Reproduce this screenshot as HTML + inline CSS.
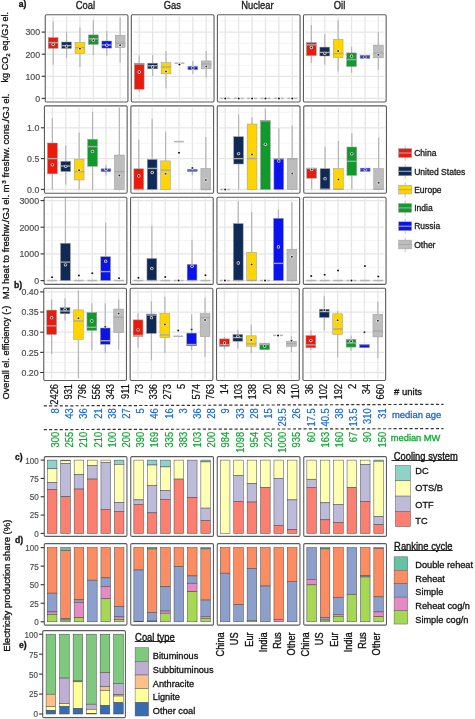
<!DOCTYPE html><html><head><meta charset="utf-8"><style>html,body{margin:0;padding:0;background:#fff;width:475px;height:719px;overflow:hidden}svg{display:block;will-change:transform}text{font-family:"Liberation Sans", sans-serif}</style></head><body>
<svg width="475" height="719" viewBox="0 0 475 719">
<rect width="475" height="719" fill="#fff"/>
<text transform="translate(85.4,8.75) scale(1,1.13)" font-size="9.4" text-anchor="middle" fill="#1a1a1a" stroke="#1a1a1a" stroke-width="0.3">Coal</text>
<text transform="translate(172.3,8.75) scale(1,1.13)" font-size="9.4" text-anchor="middle" fill="#1a1a1a" stroke="#1a1a1a" stroke-width="0.3">Gas</text>
<text transform="translate(257.4,8.75) scale(1,1.13)" font-size="9.4" text-anchor="middle" fill="#1a1a1a" stroke="#1a1a1a" stroke-width="0.3">Nuclear</text>
<text transform="translate(339.5,8.75) scale(1,1.13)" font-size="9.4" text-anchor="middle" fill="#1a1a1a" stroke="#1a1a1a" stroke-width="0.3">Oil</text>
<text x="18.7" y="7.4" font-size="8.6" font-weight="bold" fill="#111" stroke="#111" stroke-width="0.3">a)</text>
<g>
<line x1="46.85" x2="126.35" y1="87.35" y2="87.35" stroke="#F3F3F3" stroke-width="0.9"/>
<line x1="46.85" x2="126.35" y1="65.25" y2="65.25" stroke="#F3F3F3" stroke-width="0.9"/>
<line x1="46.85" x2="126.35" y1="43.15" y2="43.15" stroke="#F3F3F3" stroke-width="0.9"/>
<line x1="46.85" x2="126.35" y1="21.05" y2="21.05" stroke="#F3F3F3" stroke-width="0.9"/>
<line x1="46.85" x2="126.35" y1="98.4" y2="98.4" stroke="#E6E6E6" stroke-width="1.3"/>
<line x1="46.85" x2="126.35" y1="76.3" y2="76.3" stroke="#E6E6E6" stroke-width="1.3"/>
<line x1="46.85" x2="126.35" y1="54.2" y2="54.2" stroke="#E6E6E6" stroke-width="1.3"/>
<line x1="46.85" x2="126.35" y1="32.1" y2="32.1" stroke="#E6E6E6" stroke-width="1.3"/>
<line x1="53.15" x2="53.15" y1="16.40" y2="100.40" stroke="#E6E6E6" stroke-width="1.3"/>
<line x1="66.55" x2="66.55" y1="16.40" y2="100.40" stroke="#E6E6E6" stroke-width="1.3"/>
<line x1="79.95" x2="79.95" y1="16.40" y2="100.40" stroke="#E6E6E6" stroke-width="1.3"/>
<line x1="93.35" x2="93.35" y1="16.40" y2="100.40" stroke="#E6E6E6" stroke-width="1.3"/>
<line x1="106.75" x2="106.75" y1="16.40" y2="100.40" stroke="#E6E6E6" stroke-width="1.3"/>
<line x1="120.15" x2="120.15" y1="16.40" y2="100.40" stroke="#E6E6E6" stroke-width="1.3"/>
<line x1="53.15" x2="53.15" y1="21.5" y2="37.6" stroke="#B6B6B6" stroke-width="1.2"/>
<line x1="53.15" x2="53.15" y1="48.3" y2="64.4" stroke="#B6B6B6" stroke-width="1.2"/>
<rect x="48.25" y="37.6" width="9.8" height="10.70" fill="#EA1A0C" stroke="#9a9a9a" stroke-width="0.5"/>
<line x1="48.25" x2="58.05" y1="42.6" y2="42.6" stroke="#A8A8A8" stroke-width="1.35"/>
<circle cx="53.15" cy="44.3" r="1.65" fill="#f6f6f6"/><circle cx="53.15" cy="44.3" r="1.0" fill="#2a2a2a"/>
<line x1="66.55" x2="66.55" y1="31.7" y2="42.0" stroke="#B6B6B6" stroke-width="1.2"/>
<line x1="66.55" x2="66.55" y1="48.4" y2="58.2" stroke="#B6B6B6" stroke-width="1.2"/>
<rect x="61.65" y="42.0" width="9.8" height="6.40" fill="#0F2A56" stroke="#9a9a9a" stroke-width="0.5"/>
<line x1="61.65" x2="71.45" y1="45.6" y2="45.6" stroke="#A8A8A8" stroke-width="1.35"/>
<circle cx="66.55" cy="46.2" r="1.65" fill="#f6f6f6"/><circle cx="66.55" cy="46.2" r="1.0" fill="#2a2a2a"/>
<line x1="79.95" x2="79.95" y1="27.3" y2="42.4" stroke="#B6B6B6" stroke-width="1.2"/>
<line x1="79.95" x2="79.95" y1="53.3" y2="67.0" stroke="#B6B6B6" stroke-width="1.2"/>
<rect x="75.05" y="42.4" width="9.8" height="10.90" fill="#FFD500" stroke="#9a9a9a" stroke-width="0.5"/>
<line x1="75.05" x2="84.85" y1="47.6" y2="47.6" stroke="#A8A8A8" stroke-width="1.35"/>
<circle cx="79.95" cy="48.8" r="1.65" fill="#f6f6f6"/><circle cx="79.95" cy="48.8" r="1.0" fill="#2a2a2a"/>
<line x1="93.35" x2="93.35" y1="20.2" y2="34.9" stroke="#B6B6B6" stroke-width="1.2"/>
<line x1="93.35" x2="93.35" y1="44.4" y2="55.0" stroke="#B6B6B6" stroke-width="1.2"/>
<rect x="88.45" y="34.9" width="9.8" height="9.50" fill="#119A2C" stroke="#9a9a9a" stroke-width="0.5"/>
<line x1="88.45" x2="98.25" y1="38.8" y2="38.8" stroke="#A8A8A8" stroke-width="1.35"/>
<circle cx="93.35" cy="40.2" r="1.65" fill="#f6f6f6"/><circle cx="93.35" cy="40.2" r="1.0" fill="#2a2a2a"/>
<line x1="106.75" x2="106.75" y1="30.8" y2="41.0" stroke="#B6B6B6" stroke-width="1.2"/>
<line x1="106.75" x2="106.75" y1="48.1" y2="55.6" stroke="#B6B6B6" stroke-width="1.2"/>
<rect x="101.85" y="41.0" width="9.8" height="7.10" fill="#0A12EE" stroke="#9a9a9a" stroke-width="0.5"/>
<line x1="101.85" x2="111.65" y1="45.0" y2="45.0" stroke="#A8A8A8" stroke-width="1.35"/>
<circle cx="106.75" cy="45.2" r="1.65" fill="#f6f6f6"/><circle cx="106.75" cy="45.2" r="1.0" fill="#2a2a2a"/>
<line x1="120.15" x2="120.15" y1="17.5" y2="35.2" stroke="#B6B6B6" stroke-width="1.2"/>
<line x1="120.15" x2="120.15" y1="47.6" y2="62.6" stroke="#B6B6B6" stroke-width="1.2"/>
<rect x="115.25" y="35.2" width="9.8" height="12.40" fill="#BDBDBD" stroke="#9a9a9a" stroke-width="0.5"/>
<line x1="115.25" x2="125.05" y1="43.2" y2="43.2" stroke="#A8A8A8" stroke-width="1.35"/>
<circle cx="120.15" cy="45.3" r="1.65" fill="#f6f6f6"/><circle cx="120.15" cy="45.3" r="1.0" fill="#2a2a2a"/>
<rect x="45.25" y="14.8" width="82.7" height="87.20" fill="none" stroke="#5c5c5c" stroke-width="1.1" rx="1.2"/>
</g>
<g>
<line x1="132.92" x2="212.42" y1="87.35" y2="87.35" stroke="#F3F3F3" stroke-width="0.9"/>
<line x1="132.92" x2="212.42" y1="65.25" y2="65.25" stroke="#F3F3F3" stroke-width="0.9"/>
<line x1="132.92" x2="212.42" y1="43.15" y2="43.15" stroke="#F3F3F3" stroke-width="0.9"/>
<line x1="132.92" x2="212.42" y1="21.05" y2="21.05" stroke="#F3F3F3" stroke-width="0.9"/>
<line x1="132.92" x2="212.42" y1="98.4" y2="98.4" stroke="#E6E6E6" stroke-width="1.3"/>
<line x1="132.92" x2="212.42" y1="76.3" y2="76.3" stroke="#E6E6E6" stroke-width="1.3"/>
<line x1="132.92" x2="212.42" y1="54.2" y2="54.2" stroke="#E6E6E6" stroke-width="1.3"/>
<line x1="132.92" x2="212.42" y1="32.1" y2="32.1" stroke="#E6E6E6" stroke-width="1.3"/>
<line x1="139.22" x2="139.22" y1="16.40" y2="100.40" stroke="#E6E6E6" stroke-width="1.3"/>
<line x1="152.62" x2="152.62" y1="16.40" y2="100.40" stroke="#E6E6E6" stroke-width="1.3"/>
<line x1="166.02" x2="166.02" y1="16.40" y2="100.40" stroke="#E6E6E6" stroke-width="1.3"/>
<line x1="179.42" x2="179.42" y1="16.40" y2="100.40" stroke="#E6E6E6" stroke-width="1.3"/>
<line x1="192.82" x2="192.82" y1="16.40" y2="100.40" stroke="#E6E6E6" stroke-width="1.3"/>
<line x1="206.22" x2="206.22" y1="16.40" y2="100.40" stroke="#E6E6E6" stroke-width="1.3"/>
<line x1="139.22" x2="139.22" y1="55.6" y2="63.2" stroke="#B6B6B6" stroke-width="1.2"/>
<line x1="139.22" x2="139.22" y1="89.2" y2="91.8" stroke="#B6B6B6" stroke-width="1.2"/>
<rect x="134.32" y="63.2" width="9.8" height="26.00" fill="#EA1A0C" stroke="#9a9a9a" stroke-width="0.5"/>
<line x1="134.32" x2="144.12" y1="64.0" y2="64.0" stroke="#A8A8A8" stroke-width="1.35"/>
<circle cx="139.22" cy="72.0" r="1.65" fill="#f6f6f6"/><circle cx="139.22" cy="72.0" r="1.0" fill="#2a2a2a"/>
<line x1="152.62" x2="152.62" y1="55.0" y2="63.2" stroke="#B6B6B6" stroke-width="1.2"/>
<line x1="152.62" x2="152.62" y1="68.8" y2="75.9" stroke="#B6B6B6" stroke-width="1.2"/>
<rect x="147.72" y="63.2" width="9.8" height="5.60" fill="#0F2A56" stroke="#9a9a9a" stroke-width="0.5"/>
<line x1="147.72" x2="157.52" y1="65.8" y2="65.8" stroke="#A8A8A8" stroke-width="1.35"/>
<circle cx="152.62" cy="67.0" r="1.65" fill="#f6f6f6"/><circle cx="152.62" cy="67.0" r="1.0" fill="#2a2a2a"/>
<line x1="166.02" x2="166.02" y1="51.1" y2="62.6" stroke="#B6B6B6" stroke-width="1.2"/>
<line x1="166.02" x2="166.02" y1="73.8" y2="88.3" stroke="#B6B6B6" stroke-width="1.2"/>
<rect x="161.12" y="62.6" width="9.8" height="11.20" fill="#FFD500" stroke="#9a9a9a" stroke-width="0.5"/>
<line x1="161.12" x2="170.92" y1="67.0" y2="67.0" stroke="#A8A8A8" stroke-width="1.35"/>
<circle cx="166.02" cy="71.5" r="1.65" fill="#f6f6f6"/><circle cx="166.02" cy="71.5" r="1.0" fill="#2a2a2a"/>
<line x1="174.52" x2="184.32" y1="63.2" y2="63.2" stroke="#B4B4B4" stroke-width="1.5"/>
<circle cx="179.42" cy="64.4" r="1.9" fill="#fff"/><circle cx="179.42" cy="64.4" r="1.0" fill="#111"/>
<line x1="192.82" x2="192.82" y1="60.9" y2="66.2" stroke="#B6B6B6" stroke-width="1.2"/>
<line x1="192.82" x2="192.82" y1="69.7" y2="74.1" stroke="#B6B6B6" stroke-width="1.2"/>
<rect x="187.92" y="66.2" width="9.8" height="3.50" fill="#0A12EE" stroke="#9a9a9a" stroke-width="0.5"/>
<line x1="187.92" x2="197.72" y1="67.0" y2="67.0" stroke="#A8A8A8" stroke-width="0.6"/>
<circle cx="192.82" cy="68.0" r="1.65" fill="#f6f6f6"/><circle cx="192.82" cy="68.0" r="1.0" fill="#2a2a2a"/>
<line x1="206.22" x2="206.22" y1="50.8" y2="60.9" stroke="#B6B6B6" stroke-width="1.2"/>
<line x1="206.22" x2="206.22" y1="68.8" y2="77.7" stroke="#B6B6B6" stroke-width="1.2"/>
<rect x="201.32" y="60.9" width="9.8" height="7.90" fill="#BDBDBD" stroke="#9a9a9a" stroke-width="0.5"/>
<line x1="201.32" x2="211.12" y1="64.0" y2="64.0" stroke="#A8A8A8" stroke-width="1.35"/>
<circle cx="206.22" cy="66.5" r="1.65" fill="#f6f6f6"/><circle cx="206.22" cy="66.5" r="1.0" fill="#2a2a2a"/>
<rect x="131.32" y="14.8" width="82.7" height="87.20" fill="none" stroke="#5c5c5c" stroke-width="1.1" rx="1.2"/>
</g>
<g>
<line x1="218.99" x2="298.49" y1="87.35" y2="87.35" stroke="#F3F3F3" stroke-width="0.9"/>
<line x1="218.99" x2="298.49" y1="65.25" y2="65.25" stroke="#F3F3F3" stroke-width="0.9"/>
<line x1="218.99" x2="298.49" y1="43.15" y2="43.15" stroke="#F3F3F3" stroke-width="0.9"/>
<line x1="218.99" x2="298.49" y1="21.05" y2="21.05" stroke="#F3F3F3" stroke-width="0.9"/>
<line x1="218.99" x2="298.49" y1="98.4" y2="98.4" stroke="#E6E6E6" stroke-width="1.3"/>
<line x1="218.99" x2="298.49" y1="76.3" y2="76.3" stroke="#E6E6E6" stroke-width="1.3"/>
<line x1="218.99" x2="298.49" y1="54.2" y2="54.2" stroke="#E6E6E6" stroke-width="1.3"/>
<line x1="218.99" x2="298.49" y1="32.1" y2="32.1" stroke="#E6E6E6" stroke-width="1.3"/>
<line x1="225.29" x2="225.29" y1="16.40" y2="100.40" stroke="#E6E6E6" stroke-width="1.3"/>
<line x1="238.69" x2="238.69" y1="16.40" y2="100.40" stroke="#E6E6E6" stroke-width="1.3"/>
<line x1="252.09" x2="252.09" y1="16.40" y2="100.40" stroke="#E6E6E6" stroke-width="1.3"/>
<line x1="265.49" x2="265.49" y1="16.40" y2="100.40" stroke="#E6E6E6" stroke-width="1.3"/>
<line x1="278.89" x2="278.89" y1="16.40" y2="100.40" stroke="#E6E6E6" stroke-width="1.3"/>
<line x1="292.29" x2="292.29" y1="16.40" y2="100.40" stroke="#E6E6E6" stroke-width="1.3"/>
<line x1="220.39" x2="230.19" y1="98.4" y2="98.4" stroke="#B4B4B4" stroke-width="1.5"/>
<circle cx="225.29" cy="98.4" r="1.9" fill="#fff"/><circle cx="225.29" cy="98.4" r="1.0" fill="#111"/>
<line x1="233.79" x2="243.59" y1="98.4" y2="98.4" stroke="#B4B4B4" stroke-width="1.5"/>
<circle cx="238.69" cy="98.4" r="1.9" fill="#fff"/><circle cx="238.69" cy="98.4" r="1.0" fill="#111"/>
<line x1="247.19" x2="256.99" y1="98.4" y2="98.4" stroke="#B4B4B4" stroke-width="1.5"/>
<circle cx="252.09" cy="98.4" r="1.9" fill="#fff"/><circle cx="252.09" cy="98.4" r="1.0" fill="#111"/>
<line x1="260.59" x2="270.39" y1="98.4" y2="98.4" stroke="#B4B4B4" stroke-width="1.5"/>
<circle cx="265.49" cy="98.4" r="1.9" fill="#fff"/><circle cx="265.49" cy="98.4" r="1.0" fill="#111"/>
<line x1="273.99" x2="283.79" y1="98.4" y2="98.4" stroke="#B4B4B4" stroke-width="1.5"/>
<circle cx="278.89" cy="98.4" r="1.9" fill="#fff"/><circle cx="278.89" cy="98.4" r="1.0" fill="#111"/>
<line x1="287.39" x2="297.19" y1="98.4" y2="98.4" stroke="#B4B4B4" stroke-width="1.5"/>
<circle cx="292.29" cy="98.4" r="1.9" fill="#fff"/><circle cx="292.29" cy="98.4" r="1.0" fill="#111"/>
<rect x="217.39" y="14.8" width="82.7" height="87.20" fill="none" stroke="#5c5c5c" stroke-width="1.1" rx="1.2"/>
</g>
<g>
<line x1="305.06" x2="384.56" y1="87.35" y2="87.35" stroke="#F3F3F3" stroke-width="0.9"/>
<line x1="305.06" x2="384.56" y1="65.25" y2="65.25" stroke="#F3F3F3" stroke-width="0.9"/>
<line x1="305.06" x2="384.56" y1="43.15" y2="43.15" stroke="#F3F3F3" stroke-width="0.9"/>
<line x1="305.06" x2="384.56" y1="21.05" y2="21.05" stroke="#F3F3F3" stroke-width="0.9"/>
<line x1="305.06" x2="384.56" y1="98.4" y2="98.4" stroke="#E6E6E6" stroke-width="1.3"/>
<line x1="305.06" x2="384.56" y1="76.3" y2="76.3" stroke="#E6E6E6" stroke-width="1.3"/>
<line x1="305.06" x2="384.56" y1="54.2" y2="54.2" stroke="#E6E6E6" stroke-width="1.3"/>
<line x1="305.06" x2="384.56" y1="32.1" y2="32.1" stroke="#E6E6E6" stroke-width="1.3"/>
<line x1="311.36" x2="311.36" y1="16.40" y2="100.40" stroke="#E6E6E6" stroke-width="1.3"/>
<line x1="324.76" x2="324.76" y1="16.40" y2="100.40" stroke="#E6E6E6" stroke-width="1.3"/>
<line x1="338.16" x2="338.16" y1="16.40" y2="100.40" stroke="#E6E6E6" stroke-width="1.3"/>
<line x1="351.56" x2="351.56" y1="16.40" y2="100.40" stroke="#E6E6E6" stroke-width="1.3"/>
<line x1="364.96" x2="364.96" y1="16.40" y2="100.40" stroke="#E6E6E6" stroke-width="1.3"/>
<line x1="378.36" x2="378.36" y1="16.40" y2="100.40" stroke="#E6E6E6" stroke-width="1.3"/>
<line x1="311.36" x2="311.36" y1="24.9" y2="42.6" stroke="#B6B6B6" stroke-width="1.2"/>
<line x1="311.36" x2="311.36" y1="55.6" y2="62.9" stroke="#B6B6B6" stroke-width="1.2"/>
<rect x="306.46" y="42.6" width="9.8" height="13.00" fill="#EA1A0C" stroke="#9a9a9a" stroke-width="0.5"/>
<line x1="306.46" x2="316.26" y1="44.8" y2="44.8" stroke="#A8A8A8" stroke-width="1.35"/>
<circle cx="311.36" cy="47.5" r="1.65" fill="#f6f6f6"/><circle cx="311.36" cy="47.5" r="1.0" fill="#2a2a2a"/>
<line x1="324.76" x2="324.76" y1="33.9" y2="47.1" stroke="#B6B6B6" stroke-width="1.2"/>
<line x1="324.76" x2="324.76" y1="56.0" y2="64.7" stroke="#B6B6B6" stroke-width="1.2"/>
<rect x="319.86" y="47.1" width="9.8" height="8.90" fill="#0F2A56" stroke="#9a9a9a" stroke-width="0.5"/>
<line x1="319.86" x2="329.66" y1="52.4" y2="52.4" stroke="#A8A8A8" stroke-width="1.35"/>
<circle cx="324.76" cy="53.3" r="1.65" fill="#f6f6f6"/><circle cx="324.76" cy="53.3" r="1.0" fill="#2a2a2a"/>
<line x1="338.16" x2="338.16" y1="20.3" y2="39.3" stroke="#B6B6B6" stroke-width="1.2"/>
<line x1="338.16" x2="338.16" y1="57.5" y2="71.6" stroke="#B6B6B6" stroke-width="1.2"/>
<rect x="333.26" y="39.3" width="9.8" height="18.20" fill="#FFD500" stroke="#9a9a9a" stroke-width="0.5"/>
<line x1="333.26" x2="343.06" y1="53.5" y2="53.5" stroke="#A8A8A8" stroke-width="1.35"/>
<circle cx="338.16" cy="51.1" r="1.65" fill="#f6f6f6"/><circle cx="338.16" cy="51.1" r="1.0" fill="#2a2a2a"/>
<line x1="351.56" x2="351.56" y1="46.6" y2="52.9" stroke="#B6B6B6" stroke-width="1.2"/>
<line x1="351.56" x2="351.56" y1="66.5" y2="72.8" stroke="#B6B6B6" stroke-width="1.2"/>
<rect x="346.66" y="52.9" width="9.8" height="13.60" fill="#119A2C" stroke="#9a9a9a" stroke-width="0.5"/>
<line x1="346.66" x2="356.46" y1="59.6" y2="59.6" stroke="#A8A8A8" stroke-width="1.35"/>
<circle cx="351.56" cy="56.2" r="1.65" fill="#f6f6f6"/><circle cx="351.56" cy="56.2" r="1.0" fill="#2a2a2a"/>
<rect x="360.06" y="55.3" width="9.8" height="3.10" fill="#0A12EE" stroke="#9a9a9a" stroke-width="0.5"/>
<line x1="360.06" x2="369.86" y1="57.0" y2="57.0" stroke="#A8A8A8" stroke-width="0.6"/>
<circle cx="364.96" cy="57.1" r="1.65" fill="#f6f6f6"/><circle cx="364.96" cy="57.1" r="1.0" fill="#2a2a2a"/>
<line x1="378.36" x2="378.36" y1="32.1" y2="45.1" stroke="#B6B6B6" stroke-width="1.2"/>
<line x1="378.36" x2="378.36" y1="57.8" y2="70.1" stroke="#B6B6B6" stroke-width="1.2"/>
<rect x="373.46" y="45.1" width="9.8" height="12.70" fill="#BDBDBD" stroke="#9a9a9a" stroke-width="0.5"/>
<line x1="373.46" x2="383.26" y1="52.9" y2="52.9" stroke="#A8A8A8" stroke-width="1.35"/>
<circle cx="378.36" cy="54.7" r="1.65" fill="#f6f6f6"/><circle cx="378.36" cy="54.7" r="1.0" fill="#2a2a2a"/>
<rect x="303.46" y="14.8" width="82.7" height="87.20" fill="none" stroke="#5c5c5c" stroke-width="1.1" rx="1.2"/>
</g>
<line x1="41.65" x2="45.25" y1="98.4" y2="98.4" stroke="#333" stroke-width="1.1"/>
<text x="40.15" y="101.70" font-size="8.8" text-anchor="end" fill="#4d4d4d" stroke="#4d4d4d" stroke-width="0.18">0</text>
<line x1="41.65" x2="45.25" y1="76.3" y2="76.3" stroke="#333" stroke-width="1.1"/>
<text x="40.15" y="79.60" font-size="8.8" text-anchor="end" fill="#4d4d4d" stroke="#4d4d4d" stroke-width="0.18">100</text>
<line x1="41.65" x2="45.25" y1="54.2" y2="54.2" stroke="#333" stroke-width="1.1"/>
<text x="40.15" y="57.50" font-size="8.8" text-anchor="end" fill="#4d4d4d" stroke="#4d4d4d" stroke-width="0.18">200</text>
<line x1="41.65" x2="45.25" y1="32.1" y2="32.1" stroke="#333" stroke-width="1.1"/>
<text x="40.15" y="35.40" font-size="8.8" text-anchor="end" fill="#4d4d4d" stroke="#4d4d4d" stroke-width="0.18">300</text>
<g>
<line x1="46.05" x2="125.55" y1="174.0" y2="174.0" stroke="#F3F3F3" stroke-width="0.9"/>
<line x1="46.05" x2="125.55" y1="143.2" y2="143.2" stroke="#F3F3F3" stroke-width="0.9"/>
<line x1="46.05" x2="125.55" y1="112.4" y2="112.4" stroke="#F3F3F3" stroke-width="0.9"/>
<line x1="46.05" x2="125.55" y1="189.4" y2="189.4" stroke="#E6E6E6" stroke-width="1.3"/>
<line x1="46.05" x2="125.55" y1="158.6" y2="158.6" stroke="#E6E6E6" stroke-width="1.3"/>
<line x1="46.05" x2="125.55" y1="127.8" y2="127.8" stroke="#E6E6E6" stroke-width="1.3"/>
<line x1="52.35" x2="52.35" y1="107.50" y2="191.70" stroke="#E6E6E6" stroke-width="1.3"/>
<line x1="65.75" x2="65.75" y1="107.50" y2="191.70" stroke="#E6E6E6" stroke-width="1.3"/>
<line x1="79.15" x2="79.15" y1="107.50" y2="191.70" stroke="#E6E6E6" stroke-width="1.3"/>
<line x1="92.55" x2="92.55" y1="107.50" y2="191.70" stroke="#E6E6E6" stroke-width="1.3"/>
<line x1="105.95" x2="105.95" y1="107.50" y2="191.70" stroke="#E6E6E6" stroke-width="1.3"/>
<line x1="119.35" x2="119.35" y1="107.50" y2="191.70" stroke="#E6E6E6" stroke-width="1.3"/>
<line x1="52.35" x2="52.35" y1="118.3" y2="143.0" stroke="#B6B6B6" stroke-width="1.2"/>
<line x1="52.35" x2="52.35" y1="173.8" y2="189.5" stroke="#B6B6B6" stroke-width="1.2"/>
<rect x="47.45" y="143.0" width="9.8" height="30.80" fill="#EA1A0C" stroke="#9a9a9a" stroke-width="0.5"/>
<line x1="47.45" x2="57.25" y1="158.6" y2="158.6" stroke="#A8A8A8" stroke-width="1.35"/>
<circle cx="52.35" cy="164.8" r="1.65" fill="#f6f6f6"/><circle cx="52.35" cy="164.8" r="1.0" fill="#2a2a2a"/>
<line x1="65.75" x2="65.75" y1="145.2" y2="161.3" stroke="#B6B6B6" stroke-width="1.2"/>
<line x1="65.75" x2="65.75" y1="171.5" y2="184.5" stroke="#B6B6B6" stroke-width="1.2"/>
<rect x="60.85" y="161.3" width="9.8" height="10.20" fill="#0F2A56" stroke="#9a9a9a" stroke-width="0.5"/>
<line x1="60.85" x2="70.65" y1="166.0" y2="166.0" stroke="#A8A8A8" stroke-width="1.35"/>
<circle cx="65.75" cy="166.3" r="1.65" fill="#f6f6f6"/><circle cx="65.75" cy="166.3" r="1.0" fill="#2a2a2a"/>
<line x1="79.15" x2="79.15" y1="132.6" y2="159.1" stroke="#B6B6B6" stroke-width="1.2"/>
<line x1="79.15" x2="79.15" y1="180.0" y2="189.5" stroke="#B6B6B6" stroke-width="1.2"/>
<rect x="74.25" y="159.1" width="9.8" height="20.90" fill="#FFD500" stroke="#9a9a9a" stroke-width="0.5"/>
<line x1="74.25" x2="84.05" y1="171.6" y2="171.6" stroke="#A8A8A8" stroke-width="1.35"/>
<circle cx="79.15" cy="170.2" r="1.65" fill="#f6f6f6"/><circle cx="79.15" cy="170.2" r="1.0" fill="#2a2a2a"/>
<line x1="92.55" x2="92.55" y1="112.0" y2="139.3" stroke="#B6B6B6" stroke-width="1.2"/>
<line x1="92.55" x2="92.55" y1="166.3" y2="189.5" stroke="#B6B6B6" stroke-width="1.2"/>
<rect x="87.65" y="139.3" width="9.8" height="27.00" fill="#119A2C" stroke="#9a9a9a" stroke-width="0.5"/>
<line x1="87.65" x2="97.45" y1="146.6" y2="146.6" stroke="#A8A8A8" stroke-width="1.35"/>
<circle cx="92.55" cy="151.4" r="1.65" fill="#f6f6f6"/><circle cx="92.55" cy="151.4" r="1.0" fill="#2a2a2a"/>
<line x1="105.95" x2="105.95" y1="164.8" y2="168.8" stroke="#B6B6B6" stroke-width="1.2"/>
<line x1="105.95" x2="105.95" y1="171.6" y2="175.6" stroke="#B6B6B6" stroke-width="1.2"/>
<rect x="101.05" y="168.8" width="9.8" height="2.80" fill="#0A12EE" stroke="#9a9a9a" stroke-width="0.5"/>
<line x1="101.05" x2="110.85" y1="170.0" y2="170.0" stroke="#A8A8A8" stroke-width="0.6"/>
<circle cx="105.95" cy="169.3" r="1.65" fill="#f6f6f6"/><circle cx="105.95" cy="169.3" r="1.0" fill="#2a2a2a"/>
<line x1="119.35" x2="119.35" y1="107.6" y2="155.0" stroke="#B6B6B6" stroke-width="1.2"/>
<rect x="114.45" y="155.0" width="9.8" height="34.50" fill="#BDBDBD" stroke="#9a9a9a" stroke-width="0.5"/>
<line x1="114.45" x2="124.25" y1="171.5" y2="171.5" stroke="#A8A8A8" stroke-width="1.35"/>
<circle cx="119.35" cy="175.6" r="1.65" fill="#f6f6f6"/><circle cx="119.35" cy="175.6" r="1.0" fill="#2a2a2a"/>
<rect x="44.45" y="105.9" width="82.7" height="87.40" fill="none" stroke="#5c5c5c" stroke-width="1.1" rx="1.2"/>
</g>
<g>
<line x1="132.48" x2="211.98" y1="174.0" y2="174.0" stroke="#F3F3F3" stroke-width="0.9"/>
<line x1="132.48" x2="211.98" y1="143.2" y2="143.2" stroke="#F3F3F3" stroke-width="0.9"/>
<line x1="132.48" x2="211.98" y1="112.4" y2="112.4" stroke="#F3F3F3" stroke-width="0.9"/>
<line x1="132.48" x2="211.98" y1="189.4" y2="189.4" stroke="#E6E6E6" stroke-width="1.3"/>
<line x1="132.48" x2="211.98" y1="158.6" y2="158.6" stroke="#E6E6E6" stroke-width="1.3"/>
<line x1="132.48" x2="211.98" y1="127.8" y2="127.8" stroke="#E6E6E6" stroke-width="1.3"/>
<line x1="138.78" x2="138.78" y1="107.50" y2="191.70" stroke="#E6E6E6" stroke-width="1.3"/>
<line x1="152.18" x2="152.18" y1="107.50" y2="191.70" stroke="#E6E6E6" stroke-width="1.3"/>
<line x1="165.58" x2="165.58" y1="107.50" y2="191.70" stroke="#E6E6E6" stroke-width="1.3"/>
<line x1="178.98" x2="178.98" y1="107.50" y2="191.70" stroke="#E6E6E6" stroke-width="1.3"/>
<line x1="192.38" x2="192.38" y1="107.50" y2="191.70" stroke="#E6E6E6" stroke-width="1.3"/>
<line x1="205.78" x2="205.78" y1="107.50" y2="191.70" stroke="#E6E6E6" stroke-width="1.3"/>
<line x1="138.78" x2="138.78" y1="139.8" y2="168.8" stroke="#B6B6B6" stroke-width="1.2"/>
<rect x="133.88" y="168.8" width="9.8" height="20.70" fill="#EA1A0C" stroke="#9a9a9a" stroke-width="0.5"/>
<line x1="133.88" x2="143.68" y1="189.5" y2="189.5" stroke="#A8A8A8" stroke-width="1.35"/>
<circle cx="138.78" cy="175.9" r="1.65" fill="#f6f6f6"/><circle cx="138.78" cy="175.9" r="1.0" fill="#2a2a2a"/>
<line x1="152.18" x2="152.18" y1="118.7" y2="159.5" stroke="#B6B6B6" stroke-width="1.2"/>
<rect x="147.28" y="159.5" width="9.8" height="30.00" fill="#0F2A56" stroke="#9a9a9a" stroke-width="0.5"/>
<line x1="147.28" x2="157.08" y1="168.4" y2="168.4" stroke="#A8A8A8" stroke-width="1.35"/>
<circle cx="152.18" cy="172.5" r="1.65" fill="#f6f6f6"/><circle cx="152.18" cy="172.5" r="1.0" fill="#2a2a2a"/>
<line x1="165.58" x2="165.58" y1="131.7" y2="160.9" stroke="#B6B6B6" stroke-width="1.2"/>
<rect x="160.68" y="160.9" width="9.8" height="28.60" fill="#FFD500" stroke="#9a9a9a" stroke-width="0.5"/>
<line x1="160.68" x2="170.48" y1="170.2" y2="170.2" stroke="#A8A8A8" stroke-width="1.35"/>
<circle cx="165.58" cy="173.8" r="1.65" fill="#f6f6f6"/><circle cx="165.58" cy="173.8" r="1.0" fill="#2a2a2a"/>
<line x1="174.08" x2="183.88" y1="141.6" y2="141.6" stroke="#B4B4B4" stroke-width="1.5"/>
<circle cx="178.98" cy="152.7" r="1.9" fill="#fff"/><circle cx="178.98" cy="152.7" r="1.0" fill="#111"/>
<line x1="192.38" x2="192.38" y1="166.6" y2="169.3" stroke="#B6B6B6" stroke-width="1.2"/>
<line x1="192.38" x2="192.38" y1="171.5" y2="175.2" stroke="#B6B6B6" stroke-width="1.2"/>
<rect x="187.48" y="169.3" width="9.8" height="2.20" fill="#0A12EE" stroke="#9a9a9a" stroke-width="0.5"/>
<line x1="187.48" x2="197.28" y1="170.4" y2="170.4" stroke="#A8A8A8" stroke-width="0.6"/>
<circle cx="192.38" cy="168.0" r="1.65" fill="#f6f6f6"/><circle cx="192.38" cy="168.0" r="1.0" fill="#2a2a2a"/>
<line x1="205.78" x2="205.78" y1="137.1" y2="168.4" stroke="#B6B6B6" stroke-width="1.2"/>
<rect x="200.88" y="168.4" width="9.8" height="21.10" fill="#BDBDBD" stroke="#9a9a9a" stroke-width="0.5"/>
<line x1="200.88" x2="210.68" y1="189.5" y2="189.5" stroke="#A8A8A8" stroke-width="1.35"/>
<circle cx="205.78" cy="180.0" r="1.65" fill="#f6f6f6"/><circle cx="205.78" cy="180.0" r="1.0" fill="#2a2a2a"/>
<rect x="130.88" y="105.9" width="82.7" height="87.40" fill="none" stroke="#5c5c5c" stroke-width="1.1" rx="1.2"/>
</g>
<g>
<line x1="218.91" x2="298.41" y1="174.0" y2="174.0" stroke="#F3F3F3" stroke-width="0.9"/>
<line x1="218.91" x2="298.41" y1="143.2" y2="143.2" stroke="#F3F3F3" stroke-width="0.9"/>
<line x1="218.91" x2="298.41" y1="112.4" y2="112.4" stroke="#F3F3F3" stroke-width="0.9"/>
<line x1="218.91" x2="298.41" y1="189.4" y2="189.4" stroke="#E6E6E6" stroke-width="1.3"/>
<line x1="218.91" x2="298.41" y1="158.6" y2="158.6" stroke="#E6E6E6" stroke-width="1.3"/>
<line x1="218.91" x2="298.41" y1="127.8" y2="127.8" stroke="#E6E6E6" stroke-width="1.3"/>
<line x1="225.21" x2="225.21" y1="107.50" y2="191.70" stroke="#E6E6E6" stroke-width="1.3"/>
<line x1="238.61" x2="238.61" y1="107.50" y2="191.70" stroke="#E6E6E6" stroke-width="1.3"/>
<line x1="252.01" x2="252.01" y1="107.50" y2="191.70" stroke="#E6E6E6" stroke-width="1.3"/>
<line x1="265.41" x2="265.41" y1="107.50" y2="191.70" stroke="#E6E6E6" stroke-width="1.3"/>
<line x1="278.81" x2="278.81" y1="107.50" y2="191.70" stroke="#E6E6E6" stroke-width="1.3"/>
<line x1="292.21" x2="292.21" y1="107.50" y2="191.70" stroke="#E6E6E6" stroke-width="1.3"/>
<line x1="220.31" x2="230.11" y1="189.5" y2="189.5" stroke="#B4B4B4" stroke-width="1.5"/>
<circle cx="225.21" cy="189.5" r="1.9" fill="#fff"/><circle cx="225.21" cy="189.5" r="1.0" fill="#111"/>
<line x1="238.61" x2="238.61" y1="114.4" y2="136.7" stroke="#B6B6B6" stroke-width="1.2"/>
<line x1="238.61" x2="238.61" y1="164.0" y2="189.5" stroke="#B6B6B6" stroke-width="1.2"/>
<rect x="233.71" y="136.7" width="9.8" height="27.30" fill="#0F2A56" stroke="#9a9a9a" stroke-width="0.5"/>
<line x1="233.71" x2="243.51" y1="158.6" y2="158.6" stroke="#A8A8A8" stroke-width="1.35"/>
<circle cx="238.61" cy="153.6" r="1.65" fill="#f6f6f6"/><circle cx="238.61" cy="153.6" r="1.0" fill="#2a2a2a"/>
<line x1="252.01" x2="252.01" y1="117.4" y2="124.0" stroke="#B6B6B6" stroke-width="1.2"/>
<rect x="247.11" y="124.0" width="9.8" height="65.50" fill="#FFD500" stroke="#9a9a9a" stroke-width="0.5"/>
<line x1="247.11" x2="256.91" y1="158.6" y2="158.6" stroke="#A8A8A8" stroke-width="1.35"/>
<circle cx="252.01" cy="154.5" r="1.65" fill="#f6f6f6"/><circle cx="252.01" cy="154.5" r="1.0" fill="#2a2a2a"/>
<line x1="265.41" x2="265.41" y1="108.5" y2="120.5" stroke="#B6B6B6" stroke-width="1.2"/>
<rect x="260.51" y="120.5" width="9.8" height="69.00" fill="#119A2C" stroke="#9a9a9a" stroke-width="0.5"/>
<line x1="260.51" x2="270.31" y1="120.8" y2="120.8" stroke="#A8A8A8" stroke-width="1.35"/>
<circle cx="265.41" cy="144.3" r="1.65" fill="#f6f6f6"/><circle cx="265.41" cy="144.3" r="1.0" fill="#2a2a2a"/>
<line x1="278.81" x2="278.81" y1="128.2" y2="158.6" stroke="#B6B6B6" stroke-width="1.2"/>
<rect x="273.91" y="158.6" width="9.8" height="30.90" fill="#0A12EE" stroke="#9a9a9a" stroke-width="0.5"/>
<line x1="273.91" x2="283.71" y1="158.8" y2="158.8" stroke="#A8A8A8" stroke-width="1.35"/>
<circle cx="278.81" cy="160.9" r="1.65" fill="#f6f6f6"/><circle cx="278.81" cy="160.9" r="1.0" fill="#2a2a2a"/>
<line x1="292.21" x2="292.21" y1="125.5" y2="158.6" stroke="#B6B6B6" stroke-width="1.2"/>
<rect x="287.31" y="158.6" width="9.8" height="30.90" fill="#BDBDBD" stroke="#9a9a9a" stroke-width="0.5"/>
<line x1="287.31" x2="297.11" y1="158.8" y2="158.8" stroke="#A8A8A8" stroke-width="1.35"/>
<circle cx="292.21" cy="173.4" r="1.65" fill="#f6f6f6"/><circle cx="292.21" cy="173.4" r="1.0" fill="#2a2a2a"/>
<rect x="217.31" y="105.9" width="82.7" height="87.40" fill="none" stroke="#5c5c5c" stroke-width="1.1" rx="1.2"/>
</g>
<g>
<line x1="305.34" x2="384.84" y1="174.0" y2="174.0" stroke="#F3F3F3" stroke-width="0.9"/>
<line x1="305.34" x2="384.84" y1="143.2" y2="143.2" stroke="#F3F3F3" stroke-width="0.9"/>
<line x1="305.34" x2="384.84" y1="112.4" y2="112.4" stroke="#F3F3F3" stroke-width="0.9"/>
<line x1="305.34" x2="384.84" y1="189.4" y2="189.4" stroke="#E6E6E6" stroke-width="1.3"/>
<line x1="305.34" x2="384.84" y1="158.6" y2="158.6" stroke="#E6E6E6" stroke-width="1.3"/>
<line x1="305.34" x2="384.84" y1="127.8" y2="127.8" stroke="#E6E6E6" stroke-width="1.3"/>
<line x1="311.64" x2="311.64" y1="107.50" y2="191.70" stroke="#E6E6E6" stroke-width="1.3"/>
<line x1="325.04" x2="325.04" y1="107.50" y2="191.70" stroke="#E6E6E6" stroke-width="1.3"/>
<line x1="338.44" x2="338.44" y1="107.50" y2="191.70" stroke="#E6E6E6" stroke-width="1.3"/>
<line x1="351.84" x2="351.84" y1="107.50" y2="191.70" stroke="#E6E6E6" stroke-width="1.3"/>
<line x1="365.24" x2="365.24" y1="107.50" y2="191.70" stroke="#E6E6E6" stroke-width="1.3"/>
<line x1="378.64" x2="378.64" y1="107.50" y2="191.70" stroke="#E6E6E6" stroke-width="1.3"/>
<line x1="311.64" x2="311.64" y1="178.2" y2="189.2" stroke="#B6B6B6" stroke-width="1.2"/>
<rect x="306.74" y="168.1" width="9.8" height="10.10" fill="#EA1A0C" stroke="#9a9a9a" stroke-width="0.5"/>
<line x1="306.74" x2="316.54" y1="168.5" y2="168.5" stroke="#A8A8A8" stroke-width="1.35"/>
<circle cx="311.64" cy="169.4" r="1.65" fill="#f6f6f6"/><circle cx="311.64" cy="169.4" r="1.0" fill="#2a2a2a"/>
<line x1="325.04" x2="325.04" y1="146.5" y2="168.7" stroke="#B6B6B6" stroke-width="1.2"/>
<rect x="320.14" y="168.7" width="9.8" height="20.50" fill="#0F2A56" stroke="#9a9a9a" stroke-width="0.5"/>
<line x1="320.14" x2="329.94" y1="189.2" y2="189.2" stroke="#A8A8A8" stroke-width="1.35"/>
<circle cx="325.04" cy="178.7" r="1.65" fill="#f6f6f6"/><circle cx="325.04" cy="178.7" r="1.0" fill="#2a2a2a"/>
<line x1="338.44" x2="338.44" y1="141.0" y2="168.5" stroke="#B6B6B6" stroke-width="1.2"/>
<rect x="333.54" y="168.5" width="9.8" height="20.70" fill="#FFD500" stroke="#9a9a9a" stroke-width="0.5"/>
<line x1="333.54" x2="343.34" y1="189.2" y2="189.2" stroke="#A8A8A8" stroke-width="1.35"/>
<circle cx="338.44" cy="179.6" r="1.65" fill="#f6f6f6"/><circle cx="338.44" cy="179.6" r="1.0" fill="#2a2a2a"/>
<line x1="351.84" x2="351.84" y1="133.3" y2="147.0" stroke="#B6B6B6" stroke-width="1.2"/>
<line x1="351.84" x2="351.84" y1="175.4" y2="189.2" stroke="#B6B6B6" stroke-width="1.2"/>
<rect x="346.94" y="147.0" width="9.8" height="28.40" fill="#119A2C" stroke="#9a9a9a" stroke-width="0.5"/>
<line x1="346.94" x2="356.74" y1="161.3" y2="161.3" stroke="#A8A8A8" stroke-width="1.35"/>
<circle cx="351.84" cy="153.8" r="1.65" fill="#f6f6f6"/><circle cx="351.84" cy="153.8" r="1.0" fill="#2a2a2a"/>
<rect x="360.34" y="168.1" width="9.8" height="3.30" fill="#0A12EE" stroke="#9a9a9a" stroke-width="0.5"/>
<line x1="360.34" x2="370.14" y1="169.8" y2="169.8" stroke="#A8A8A8" stroke-width="0.6"/>
<circle cx="365.24" cy="169.8" r="1.65" fill="#f6f6f6"/><circle cx="365.24" cy="169.8" r="1.0" fill="#2a2a2a"/>
<line x1="378.64" x2="378.64" y1="137.5" y2="168.5" stroke="#B6B6B6" stroke-width="1.2"/>
<rect x="373.74" y="168.5" width="9.8" height="20.70" fill="#BDBDBD" stroke="#9a9a9a" stroke-width="0.5"/>
<line x1="373.74" x2="383.54" y1="189.2" y2="189.2" stroke="#A8A8A8" stroke-width="1.35"/>
<circle cx="378.64" cy="182.8" r="1.65" fill="#f6f6f6"/><circle cx="378.64" cy="182.8" r="1.0" fill="#2a2a2a"/>
<rect x="303.74" y="105.9" width="82.7" height="87.40" fill="none" stroke="#5c5c5c" stroke-width="1.1" rx="1.2"/>
</g>
<line x1="40.85" x2="44.45" y1="189.4" y2="189.4" stroke="#333" stroke-width="1.1"/>
<text x="39.35" y="192.70" font-size="8.8" text-anchor="end" fill="#4d4d4d" stroke="#4d4d4d" stroke-width="0.18">0.0</text>
<line x1="40.85" x2="44.45" y1="158.6" y2="158.6" stroke="#333" stroke-width="1.1"/>
<text x="39.35" y="161.90" font-size="8.8" text-anchor="end" fill="#4d4d4d" stroke="#4d4d4d" stroke-width="0.18">0.5</text>
<line x1="40.85" x2="44.45" y1="127.8" y2="127.8" stroke="#333" stroke-width="1.1"/>
<text x="39.35" y="131.10" font-size="8.8" text-anchor="end" fill="#4d4d4d" stroke="#4d4d4d" stroke-width="0.18">1.0</text>
<g>
<line x1="45.75" x2="125.25" y1="267.25" y2="267.25" stroke="#F3F3F3" stroke-width="0.9"/>
<line x1="45.75" x2="125.25" y1="240.55" y2="240.55" stroke="#F3F3F3" stroke-width="0.9"/>
<line x1="45.75" x2="125.25" y1="213.9" y2="213.9" stroke="#F3F3F3" stroke-width="0.9"/>
<line x1="45.75" x2="125.25" y1="280.6" y2="280.6" stroke="#E6E6E6" stroke-width="1.3"/>
<line x1="45.75" x2="125.25" y1="253.9" y2="253.9" stroke="#E6E6E6" stroke-width="1.3"/>
<line x1="45.75" x2="125.25" y1="227.2" y2="227.2" stroke="#E6E6E6" stroke-width="1.3"/>
<line x1="45.75" x2="125.25" y1="200.6" y2="200.6" stroke="#E6E6E6" stroke-width="1.3"/>
<line x1="52.05" x2="52.05" y1="198.80" y2="282.80" stroke="#E6E6E6" stroke-width="1.3"/>
<line x1="65.45" x2="65.45" y1="198.80" y2="282.80" stroke="#E6E6E6" stroke-width="1.3"/>
<line x1="78.85" x2="78.85" y1="198.80" y2="282.80" stroke="#E6E6E6" stroke-width="1.3"/>
<line x1="92.25" x2="92.25" y1="198.80" y2="282.80" stroke="#E6E6E6" stroke-width="1.3"/>
<line x1="105.65" x2="105.65" y1="198.80" y2="282.80" stroke="#E6E6E6" stroke-width="1.3"/>
<line x1="119.05" x2="119.05" y1="198.80" y2="282.80" stroke="#E6E6E6" stroke-width="1.3"/>
<line x1="47.15" x2="56.95" y1="280.5" y2="280.5" stroke="#B4B4B4" stroke-width="1.5"/>
<circle cx="52.05" cy="277.3" r="1.9" fill="#fff"/><circle cx="52.05" cy="277.3" r="1.0" fill="#111"/>
<line x1="65.45" x2="65.45" y1="197.7" y2="243.3" stroke="#B6B6B6" stroke-width="1.2"/>
<rect x="60.55" y="243.3" width="9.8" height="37.20" fill="#0F2A56" stroke="#9a9a9a" stroke-width="0.5"/>
<line x1="60.55" x2="70.35" y1="262.1" y2="262.1" stroke="#A8A8A8" stroke-width="1.35"/>
<circle cx="65.45" cy="264.8" r="1.65" fill="#f6f6f6"/><circle cx="65.45" cy="264.8" r="1.0" fill="#2a2a2a"/>
<line x1="73.95" x2="83.75" y1="280.5" y2="280.5" stroke="#B4B4B4" stroke-width="1.5"/>
<circle cx="78.85" cy="275.5" r="1.9" fill="#fff"/><circle cx="78.85" cy="275.5" r="1.0" fill="#111"/>
<line x1="87.35" x2="97.15" y1="280.5" y2="280.5" stroke="#B4B4B4" stroke-width="1.5"/>
<circle cx="92.25" cy="273.2" r="1.9" fill="#fff"/><circle cx="92.25" cy="273.2" r="1.0" fill="#111"/>
<line x1="105.65" x2="105.65" y1="222.7" y2="256.7" stroke="#B6B6B6" stroke-width="1.2"/>
<rect x="100.75" y="256.7" width="9.8" height="23.80" fill="#0A12EE" stroke="#9a9a9a" stroke-width="0.5"/>
<line x1="100.75" x2="110.55" y1="271.6" y2="271.6" stroke="#A8A8A8" stroke-width="1.35"/>
<circle cx="105.65" cy="261.2" r="1.65" fill="#f6f6f6"/><circle cx="105.65" cy="261.2" r="1.0" fill="#2a2a2a"/>
<line x1="114.15" x2="123.95" y1="280.5" y2="280.5" stroke="#B4B4B4" stroke-width="1.5"/>
<circle cx="119.05" cy="278.2" r="1.9" fill="#fff"/><circle cx="119.05" cy="278.2" r="1.0" fill="#111"/>
<rect x="44.15" y="197.2" width="82.7" height="87.20" fill="none" stroke="#5c5c5c" stroke-width="1.1" rx="1.2"/>
</g>
<g>
<line x1="132.15" x2="211.65" y1="267.25" y2="267.25" stroke="#F3F3F3" stroke-width="0.9"/>
<line x1="132.15" x2="211.65" y1="240.55" y2="240.55" stroke="#F3F3F3" stroke-width="0.9"/>
<line x1="132.15" x2="211.65" y1="213.9" y2="213.9" stroke="#F3F3F3" stroke-width="0.9"/>
<line x1="132.15" x2="211.65" y1="280.6" y2="280.6" stroke="#E6E6E6" stroke-width="1.3"/>
<line x1="132.15" x2="211.65" y1="253.9" y2="253.9" stroke="#E6E6E6" stroke-width="1.3"/>
<line x1="132.15" x2="211.65" y1="227.2" y2="227.2" stroke="#E6E6E6" stroke-width="1.3"/>
<line x1="132.15" x2="211.65" y1="200.6" y2="200.6" stroke="#E6E6E6" stroke-width="1.3"/>
<line x1="138.45" x2="138.45" y1="198.80" y2="282.80" stroke="#E6E6E6" stroke-width="1.3"/>
<line x1="151.85" x2="151.85" y1="198.80" y2="282.80" stroke="#E6E6E6" stroke-width="1.3"/>
<line x1="165.25" x2="165.25" y1="198.80" y2="282.80" stroke="#E6E6E6" stroke-width="1.3"/>
<line x1="178.65" x2="178.65" y1="198.80" y2="282.80" stroke="#E6E6E6" stroke-width="1.3"/>
<line x1="192.05" x2="192.05" y1="198.80" y2="282.80" stroke="#E6E6E6" stroke-width="1.3"/>
<line x1="205.45" x2="205.45" y1="198.80" y2="282.80" stroke="#E6E6E6" stroke-width="1.3"/>
<line x1="133.55" x2="143.35" y1="280.5" y2="280.5" stroke="#B4B4B4" stroke-width="1.5"/>
<circle cx="138.45" cy="277.7" r="1.9" fill="#fff"/><circle cx="138.45" cy="277.7" r="1.0" fill="#111"/>
<line x1="151.85" x2="151.85" y1="225.4" y2="258.5" stroke="#B6B6B6" stroke-width="1.2"/>
<rect x="146.95" y="258.5" width="9.8" height="22.00" fill="#0F2A56" stroke="#9a9a9a" stroke-width="0.5"/>
<line x1="146.95" x2="156.75" y1="280.5" y2="280.5" stroke="#A8A8A8" stroke-width="1.35"/>
<circle cx="151.85" cy="268.4" r="1.65" fill="#f6f6f6"/><circle cx="151.85" cy="268.4" r="1.0" fill="#2a2a2a"/>
<line x1="160.35" x2="170.15" y1="280.5" y2="280.5" stroke="#B4B4B4" stroke-width="1.5"/>
<circle cx="165.25" cy="277.0" r="1.9" fill="#fff"/><circle cx="165.25" cy="277.0" r="1.0" fill="#111"/>
<line x1="173.75" x2="183.55" y1="280.5" y2="280.5" stroke="#B4B4B4" stroke-width="1.5"/>
<circle cx="178.65" cy="280.5" r="1.9" fill="#fff"/><circle cx="178.65" cy="280.5" r="1.0" fill="#111"/>
<line x1="192.05" x2="192.05" y1="239.7" y2="264.4" stroke="#B6B6B6" stroke-width="1.2"/>
<rect x="187.15" y="264.4" width="9.8" height="16.10" fill="#0A12EE" stroke="#9a9a9a" stroke-width="0.5"/>
<line x1="187.15" x2="196.95" y1="280.5" y2="280.5" stroke="#A8A8A8" stroke-width="1.35"/>
<circle cx="192.05" cy="266.2" r="1.65" fill="#f6f6f6"/><circle cx="192.05" cy="266.2" r="1.0" fill="#2a2a2a"/>
<line x1="200.55" x2="210.35" y1="280.5" y2="280.5" stroke="#B4B4B4" stroke-width="1.5"/>
<circle cx="205.45" cy="275.2" r="1.9" fill="#fff"/><circle cx="205.45" cy="275.2" r="1.0" fill="#111"/>
<rect x="130.55" y="197.2" width="82.7" height="87.20" fill="none" stroke="#5c5c5c" stroke-width="1.1" rx="1.2"/>
</g>
<g>
<line x1="218.55" x2="298.05" y1="267.25" y2="267.25" stroke="#F3F3F3" stroke-width="0.9"/>
<line x1="218.55" x2="298.05" y1="240.55" y2="240.55" stroke="#F3F3F3" stroke-width="0.9"/>
<line x1="218.55" x2="298.05" y1="213.9" y2="213.9" stroke="#F3F3F3" stroke-width="0.9"/>
<line x1="218.55" x2="298.05" y1="280.6" y2="280.6" stroke="#E6E6E6" stroke-width="1.3"/>
<line x1="218.55" x2="298.05" y1="253.9" y2="253.9" stroke="#E6E6E6" stroke-width="1.3"/>
<line x1="218.55" x2="298.05" y1="227.2" y2="227.2" stroke="#E6E6E6" stroke-width="1.3"/>
<line x1="218.55" x2="298.05" y1="200.6" y2="200.6" stroke="#E6E6E6" stroke-width="1.3"/>
<line x1="224.85" x2="224.85" y1="198.80" y2="282.80" stroke="#E6E6E6" stroke-width="1.3"/>
<line x1="238.25" x2="238.25" y1="198.80" y2="282.80" stroke="#E6E6E6" stroke-width="1.3"/>
<line x1="251.65" x2="251.65" y1="198.80" y2="282.80" stroke="#E6E6E6" stroke-width="1.3"/>
<line x1="265.05" x2="265.05" y1="198.80" y2="282.80" stroke="#E6E6E6" stroke-width="1.3"/>
<line x1="278.45" x2="278.45" y1="198.80" y2="282.80" stroke="#E6E6E6" stroke-width="1.3"/>
<line x1="291.85" x2="291.85" y1="198.80" y2="282.80" stroke="#E6E6E6" stroke-width="1.3"/>
<line x1="219.95" x2="229.75" y1="280.5" y2="280.5" stroke="#B4B4B4" stroke-width="1.5"/>
<circle cx="224.85" cy="280.5" r="1.9" fill="#fff"/><circle cx="224.85" cy="280.5" r="1.0" fill="#111"/>
<line x1="238.25" x2="238.25" y1="201.3" y2="223.6" stroke="#B6B6B6" stroke-width="1.2"/>
<rect x="233.35" y="223.6" width="9.8" height="56.90" fill="#0F2A56" stroke="#9a9a9a" stroke-width="0.5"/>
<line x1="233.35" x2="243.15" y1="280.5" y2="280.5" stroke="#A8A8A8" stroke-width="1.35"/>
<circle cx="238.25" cy="263.0" r="1.65" fill="#f6f6f6"/><circle cx="238.25" cy="263.0" r="1.0" fill="#2a2a2a"/>
<line x1="251.65" x2="251.65" y1="212.0" y2="252.3" stroke="#B6B6B6" stroke-width="1.2"/>
<rect x="246.75" y="252.3" width="9.8" height="28.20" fill="#FFD500" stroke="#9a9a9a" stroke-width="0.5"/>
<line x1="246.75" x2="256.55" y1="280.5" y2="280.5" stroke="#A8A8A8" stroke-width="1.35"/>
<circle cx="251.65" cy="264.4" r="1.65" fill="#f6f6f6"/><circle cx="251.65" cy="264.4" r="1.0" fill="#2a2a2a"/>
<line x1="260.15" x2="269.95" y1="280.5" y2="280.5" stroke="#B4B4B4" stroke-width="1.5"/>
<circle cx="265.05" cy="280.5" r="1.9" fill="#fff"/><circle cx="265.05" cy="280.5" r="1.0" fill="#111"/>
<line x1="278.45" x2="278.45" y1="209.3" y2="218.3" stroke="#B6B6B6" stroke-width="1.2"/>
<rect x="273.55" y="218.3" width="9.8" height="62.20" fill="#0A12EE" stroke="#9a9a9a" stroke-width="0.5"/>
<line x1="273.55" x2="283.35" y1="263.4" y2="263.4" stroke="#A8A8A8" stroke-width="1.35"/>
<circle cx="278.45" cy="246.9" r="1.65" fill="#f6f6f6"/><circle cx="278.45" cy="246.9" r="1.0" fill="#2a2a2a"/>
<line x1="291.85" x2="291.85" y1="202.2" y2="249.2" stroke="#B6B6B6" stroke-width="1.2"/>
<rect x="286.95" y="249.2" width="9.8" height="31.30" fill="#BDBDBD" stroke="#9a9a9a" stroke-width="0.5"/>
<line x1="286.95" x2="296.75" y1="280.5" y2="280.5" stroke="#A8A8A8" stroke-width="1.35"/>
<circle cx="291.85" cy="256.7" r="1.65" fill="#f6f6f6"/><circle cx="291.85" cy="256.7" r="1.0" fill="#2a2a2a"/>
<rect x="216.95000000000002" y="197.2" width="82.7" height="87.20" fill="none" stroke="#5c5c5c" stroke-width="1.1" rx="1.2"/>
</g>
<g>
<line x1="304.95" x2="384.45" y1="267.25" y2="267.25" stroke="#F3F3F3" stroke-width="0.9"/>
<line x1="304.95" x2="384.45" y1="240.55" y2="240.55" stroke="#F3F3F3" stroke-width="0.9"/>
<line x1="304.95" x2="384.45" y1="213.9" y2="213.9" stroke="#F3F3F3" stroke-width="0.9"/>
<line x1="304.95" x2="384.45" y1="280.6" y2="280.6" stroke="#E6E6E6" stroke-width="1.3"/>
<line x1="304.95" x2="384.45" y1="253.9" y2="253.9" stroke="#E6E6E6" stroke-width="1.3"/>
<line x1="304.95" x2="384.45" y1="227.2" y2="227.2" stroke="#E6E6E6" stroke-width="1.3"/>
<line x1="304.95" x2="384.45" y1="200.6" y2="200.6" stroke="#E6E6E6" stroke-width="1.3"/>
<line x1="311.25" x2="311.25" y1="198.80" y2="282.80" stroke="#E6E6E6" stroke-width="1.3"/>
<line x1="324.65" x2="324.65" y1="198.80" y2="282.80" stroke="#E6E6E6" stroke-width="1.3"/>
<line x1="338.05" x2="338.05" y1="198.80" y2="282.80" stroke="#E6E6E6" stroke-width="1.3"/>
<line x1="351.45" x2="351.45" y1="198.80" y2="282.80" stroke="#E6E6E6" stroke-width="1.3"/>
<line x1="364.85" x2="364.85" y1="198.80" y2="282.80" stroke="#E6E6E6" stroke-width="1.3"/>
<line x1="378.25" x2="378.25" y1="198.80" y2="282.80" stroke="#E6E6E6" stroke-width="1.3"/>
<line x1="306.35" x2="316.15" y1="280.5" y2="280.5" stroke="#B4B4B4" stroke-width="1.5"/>
<circle cx="311.25" cy="276.0" r="1.9" fill="#fff"/><circle cx="311.25" cy="276.0" r="1.0" fill="#111"/>
<line x1="319.75" x2="329.55" y1="280.5" y2="280.5" stroke="#B4B4B4" stroke-width="1.5"/>
<circle cx="324.65" cy="274.7" r="1.9" fill="#fff"/><circle cx="324.65" cy="274.7" r="1.0" fill="#111"/>
<line x1="333.15" x2="342.95" y1="280.5" y2="280.5" stroke="#B4B4B4" stroke-width="1.5"/>
<circle cx="338.05" cy="270.6" r="1.9" fill="#fff"/><circle cx="338.05" cy="270.6" r="1.0" fill="#111"/>
<line x1="346.55" x2="356.35" y1="280.5" y2="280.5" stroke="#B4B4B4" stroke-width="1.5"/>
<circle cx="351.45" cy="280.5" r="1.9" fill="#fff"/><circle cx="351.45" cy="280.5" r="1.0" fill="#111"/>
<line x1="359.95" x2="369.75" y1="280.5" y2="280.5" stroke="#B4B4B4" stroke-width="1.5"/>
<circle cx="364.85" cy="265.9" r="1.9" fill="#fff"/><circle cx="364.85" cy="265.9" r="1.0" fill="#111"/>
<line x1="373.35" x2="383.15" y1="280.5" y2="280.5" stroke="#B4B4B4" stroke-width="1.5"/>
<circle cx="378.25" cy="276.5" r="1.9" fill="#fff"/><circle cx="378.25" cy="276.5" r="1.0" fill="#111"/>
<rect x="303.35" y="197.2" width="82.7" height="87.20" fill="none" stroke="#5c5c5c" stroke-width="1.1" rx="1.2"/>
</g>
<line x1="40.55" x2="44.15" y1="280.6" y2="280.6" stroke="#333" stroke-width="1.1"/>
<text x="39.05" y="283.90" font-size="8.8" text-anchor="end" fill="#4d4d4d" stroke="#4d4d4d" stroke-width="0.18">0</text>
<line x1="40.55" x2="44.15" y1="253.9" y2="253.9" stroke="#333" stroke-width="1.1"/>
<text x="39.05" y="257.20" font-size="8.8" text-anchor="end" fill="#4d4d4d" stroke="#4d4d4d" stroke-width="0.18">1000</text>
<line x1="40.55" x2="44.15" y1="227.2" y2="227.2" stroke="#333" stroke-width="1.1"/>
<text x="39.05" y="230.50" font-size="8.8" text-anchor="end" fill="#4d4d4d" stroke="#4d4d4d" stroke-width="0.18">2000</text>
<line x1="40.55" x2="44.15" y1="200.6" y2="200.6" stroke="#333" stroke-width="1.1"/>
<text x="39.05" y="203.90" font-size="8.8" text-anchor="end" fill="#4d4d4d" stroke="#4d4d4d" stroke-width="0.18">3000</text>
<g>
<line x1="45.35" x2="124.85" y1="362.4" y2="362.4" stroke="#F3F3F3" stroke-width="0.9"/>
<line x1="45.35" x2="124.85" y1="342.3" y2="342.3" stroke="#F3F3F3" stroke-width="0.9"/>
<line x1="45.35" x2="124.85" y1="322.1" y2="322.1" stroke="#F3F3F3" stroke-width="0.9"/>
<line x1="45.35" x2="124.85" y1="302.0" y2="302.0" stroke="#F3F3F3" stroke-width="0.9"/>
<line x1="45.35" x2="124.85" y1="372.5" y2="372.5" stroke="#E6E6E6" stroke-width="1.3"/>
<line x1="45.35" x2="124.85" y1="352.35" y2="352.35" stroke="#E6E6E6" stroke-width="1.3"/>
<line x1="45.35" x2="124.85" y1="332.2" y2="332.2" stroke="#E6E6E6" stroke-width="1.3"/>
<line x1="45.35" x2="124.85" y1="312.05" y2="312.05" stroke="#E6E6E6" stroke-width="1.3"/>
<line x1="45.35" x2="124.85" y1="291.9" y2="291.9" stroke="#E6E6E6" stroke-width="1.3"/>
<line x1="51.65" x2="51.65" y1="289.90" y2="378.90" stroke="#E6E6E6" stroke-width="1.3"/>
<line x1="65.05" x2="65.05" y1="289.90" y2="378.90" stroke="#E6E6E6" stroke-width="1.3"/>
<line x1="78.45" x2="78.45" y1="289.90" y2="378.90" stroke="#E6E6E6" stroke-width="1.3"/>
<line x1="91.85" x2="91.85" y1="289.90" y2="378.90" stroke="#E6E6E6" stroke-width="1.3"/>
<line x1="105.25" x2="105.25" y1="289.90" y2="378.90" stroke="#E6E6E6" stroke-width="1.3"/>
<line x1="118.65" x2="118.65" y1="289.90" y2="378.90" stroke="#E6E6E6" stroke-width="1.3"/>
<line x1="51.65" x2="51.65" y1="299.6" y2="310.1" stroke="#B6B6B6" stroke-width="1.2"/>
<line x1="51.65" x2="51.65" y1="334.5" y2="353.9" stroke="#B6B6B6" stroke-width="1.2"/>
<rect x="46.75" y="310.1" width="9.8" height="24.40" fill="#EA1A0C" stroke="#9a9a9a" stroke-width="0.5"/>
<line x1="46.75" x2="56.55" y1="325.8" y2="325.8" stroke="#A8A8A8" stroke-width="1.35"/>
<circle cx="51.65" cy="317.7" r="1.65" fill="#f6f6f6"/><circle cx="51.65" cy="317.7" r="1.0" fill="#2a2a2a"/>
<line x1="65.05" x2="65.05" y1="298.3" y2="307.7" stroke="#B6B6B6" stroke-width="1.2"/>
<line x1="65.05" x2="65.05" y1="313.7" y2="320.4" stroke="#B6B6B6" stroke-width="1.2"/>
<rect x="60.15" y="307.7" width="9.8" height="6.00" fill="#0F2A56" stroke="#9a9a9a" stroke-width="0.5"/>
<line x1="60.15" x2="69.95" y1="311.0" y2="311.0" stroke="#A8A8A8" stroke-width="1.35"/>
<circle cx="65.05" cy="309.5" r="1.65" fill="#f6f6f6"/><circle cx="65.05" cy="309.5" r="1.0" fill="#2a2a2a"/>
<line x1="78.45" x2="78.45" y1="290.5" y2="309.9" stroke="#B6B6B6" stroke-width="1.2"/>
<line x1="78.45" x2="78.45" y1="339.4" y2="378.3" stroke="#B6B6B6" stroke-width="1.2"/>
<rect x="73.55" y="309.9" width="9.8" height="29.50" fill="#FFD500" stroke="#9a9a9a" stroke-width="0.5"/>
<line x1="73.55" x2="83.35" y1="321.0" y2="321.0" stroke="#A8A8A8" stroke-width="1.35"/>
<circle cx="78.45" cy="318.2" r="1.65" fill="#f6f6f6"/><circle cx="78.45" cy="318.2" r="1.0" fill="#2a2a2a"/>
<line x1="91.85" x2="91.85" y1="303.2" y2="312.6" stroke="#B6B6B6" stroke-width="1.2"/>
<line x1="91.85" x2="91.85" y1="330.4" y2="350.3" stroke="#B6B6B6" stroke-width="1.2"/>
<rect x="86.95" y="312.6" width="9.8" height="17.80" fill="#119A2C" stroke="#9a9a9a" stroke-width="0.5"/>
<line x1="86.95" x2="96.75" y1="327.3" y2="327.3" stroke="#A8A8A8" stroke-width="1.35"/>
<circle cx="91.85" cy="321.0" r="1.65" fill="#f6f6f6"/><circle cx="91.85" cy="321.0" r="1.0" fill="#2a2a2a"/>
<line x1="105.25" x2="105.25" y1="303.2" y2="328.0" stroke="#B6B6B6" stroke-width="1.2"/>
<line x1="105.25" x2="105.25" y1="344.3" y2="353.0" stroke="#B6B6B6" stroke-width="1.2"/>
<rect x="100.35" y="328.0" width="9.8" height="16.30" fill="#0A12EE" stroke="#9a9a9a" stroke-width="0.5"/>
<line x1="100.35" x2="110.15" y1="340.7" y2="340.7" stroke="#A8A8A8" stroke-width="1.35"/>
<circle cx="105.25" cy="326.7" r="1.65" fill="#f6f6f6"/><circle cx="105.25" cy="326.7" r="1.0" fill="#2a2a2a"/>
<line x1="118.65" x2="118.65" y1="299.6" y2="309.0" stroke="#B6B6B6" stroke-width="1.2"/>
<line x1="118.65" x2="118.65" y1="332.7" y2="349.7" stroke="#B6B6B6" stroke-width="1.2"/>
<rect x="113.75" y="309.0" width="9.8" height="23.70" fill="#BDBDBD" stroke="#9a9a9a" stroke-width="0.5"/>
<line x1="113.75" x2="123.55" y1="317.1" y2="317.1" stroke="#A8A8A8" stroke-width="1.35"/>
<circle cx="118.65" cy="313.5" r="1.65" fill="#f6f6f6"/><circle cx="118.65" cy="313.5" r="1.0" fill="#2a2a2a"/>
<rect x="43.75" y="288.3" width="82.7" height="92.20" fill="none" stroke="#5c5c5c" stroke-width="1.1" rx="1.2"/>
</g>
<g>
<line x1="131.75" x2="211.25" y1="362.4" y2="362.4" stroke="#F3F3F3" stroke-width="0.9"/>
<line x1="131.75" x2="211.25" y1="342.3" y2="342.3" stroke="#F3F3F3" stroke-width="0.9"/>
<line x1="131.75" x2="211.25" y1="322.1" y2="322.1" stroke="#F3F3F3" stroke-width="0.9"/>
<line x1="131.75" x2="211.25" y1="302.0" y2="302.0" stroke="#F3F3F3" stroke-width="0.9"/>
<line x1="131.75" x2="211.25" y1="372.5" y2="372.5" stroke="#E6E6E6" stroke-width="1.3"/>
<line x1="131.75" x2="211.25" y1="352.35" y2="352.35" stroke="#E6E6E6" stroke-width="1.3"/>
<line x1="131.75" x2="211.25" y1="332.2" y2="332.2" stroke="#E6E6E6" stroke-width="1.3"/>
<line x1="131.75" x2="211.25" y1="312.05" y2="312.05" stroke="#E6E6E6" stroke-width="1.3"/>
<line x1="131.75" x2="211.25" y1="291.9" y2="291.9" stroke="#E6E6E6" stroke-width="1.3"/>
<line x1="138.05" x2="138.05" y1="289.90" y2="378.90" stroke="#E6E6E6" stroke-width="1.3"/>
<line x1="151.45" x2="151.45" y1="289.90" y2="378.90" stroke="#E6E6E6" stroke-width="1.3"/>
<line x1="164.85" x2="164.85" y1="289.90" y2="378.90" stroke="#E6E6E6" stroke-width="1.3"/>
<line x1="178.25" x2="178.25" y1="289.90" y2="378.90" stroke="#E6E6E6" stroke-width="1.3"/>
<line x1="191.65" x2="191.65" y1="289.90" y2="378.90" stroke="#E6E6E6" stroke-width="1.3"/>
<line x1="205.05" x2="205.05" y1="289.90" y2="378.90" stroke="#E6E6E6" stroke-width="1.3"/>
<line x1="138.05" x2="138.05" y1="313.2" y2="319.9" stroke="#B6B6B6" stroke-width="1.2"/>
<line x1="138.05" x2="138.05" y1="336.3" y2="347.6" stroke="#B6B6B6" stroke-width="1.2"/>
<rect x="133.15" y="319.9" width="9.8" height="16.40" fill="#EA1A0C" stroke="#9a9a9a" stroke-width="0.5"/>
<line x1="133.15" x2="142.95" y1="335.4" y2="335.4" stroke="#A8A8A8" stroke-width="1.35"/>
<circle cx="138.05" cy="329.8" r="1.65" fill="#f6f6f6"/><circle cx="138.05" cy="329.8" r="1.0" fill="#2a2a2a"/>
<line x1="151.45" x2="151.45" y1="301.4" y2="314.0" stroke="#B6B6B6" stroke-width="1.2"/>
<line x1="151.45" x2="151.45" y1="333.4" y2="360.2" stroke="#B6B6B6" stroke-width="1.2"/>
<rect x="146.55" y="314.0" width="9.8" height="19.40" fill="#0F2A56" stroke="#9a9a9a" stroke-width="0.5"/>
<line x1="146.55" x2="156.35" y1="315.0" y2="315.0" stroke="#A8A8A8" stroke-width="1.35"/>
<circle cx="151.45" cy="317.7" r="1.65" fill="#f6f6f6"/><circle cx="151.45" cy="317.7" r="1.0" fill="#2a2a2a"/>
<line x1="164.85" x2="164.85" y1="296.9" y2="313.5" stroke="#B6B6B6" stroke-width="1.2"/>
<line x1="164.85" x2="164.85" y1="337.6" y2="353.0" stroke="#B6B6B6" stroke-width="1.2"/>
<rect x="159.95" y="313.5" width="9.8" height="24.10" fill="#FFD500" stroke="#9a9a9a" stroke-width="0.5"/>
<line x1="159.95" x2="169.75" y1="334.9" y2="334.9" stroke="#A8A8A8" stroke-width="1.35"/>
<circle cx="164.85" cy="324.6" r="1.65" fill="#f6f6f6"/><circle cx="164.85" cy="324.6" r="1.0" fill="#2a2a2a"/>
<line x1="173.35" x2="183.15" y1="336.3" y2="336.3" stroke="#B4B4B4" stroke-width="1.5"/>
<circle cx="178.25" cy="330.4" r="1.9" fill="#fff"/><circle cx="178.25" cy="330.4" r="1.0" fill="#111"/>
<line x1="191.65" x2="191.65" y1="314.6" y2="333.1" stroke="#B6B6B6" stroke-width="1.2"/>
<line x1="191.65" x2="191.65" y1="345.8" y2="350.3" stroke="#B6B6B6" stroke-width="1.2"/>
<rect x="186.75" y="333.1" width="9.8" height="12.70" fill="#0A12EE" stroke="#9a9a9a" stroke-width="0.5"/>
<line x1="186.75" x2="196.55" y1="344.5" y2="344.5" stroke="#A8A8A8" stroke-width="1.35"/>
<circle cx="191.65" cy="329.5" r="1.65" fill="#f6f6f6"/><circle cx="191.65" cy="329.5" r="1.0" fill="#2a2a2a"/>
<line x1="205.05" x2="205.05" y1="297.8" y2="313.5" stroke="#B6B6B6" stroke-width="1.2"/>
<line x1="205.05" x2="205.05" y1="336.7" y2="357.0" stroke="#B6B6B6" stroke-width="1.2"/>
<rect x="200.15" y="313.5" width="9.8" height="23.20" fill="#BDBDBD" stroke="#9a9a9a" stroke-width="0.5"/>
<line x1="200.15" x2="209.95" y1="317.7" y2="317.7" stroke="#A8A8A8" stroke-width="1.35"/>
<circle cx="205.05" cy="320.0" r="1.65" fill="#f6f6f6"/><circle cx="205.05" cy="320.0" r="1.0" fill="#2a2a2a"/>
<rect x="130.15" y="288.3" width="82.7" height="92.20" fill="none" stroke="#5c5c5c" stroke-width="1.1" rx="1.2"/>
</g>
<g>
<line x1="218.15" x2="297.65" y1="362.4" y2="362.4" stroke="#F3F3F3" stroke-width="0.9"/>
<line x1="218.15" x2="297.65" y1="342.3" y2="342.3" stroke="#F3F3F3" stroke-width="0.9"/>
<line x1="218.15" x2="297.65" y1="322.1" y2="322.1" stroke="#F3F3F3" stroke-width="0.9"/>
<line x1="218.15" x2="297.65" y1="302.0" y2="302.0" stroke="#F3F3F3" stroke-width="0.9"/>
<line x1="218.15" x2="297.65" y1="372.5" y2="372.5" stroke="#E6E6E6" stroke-width="1.3"/>
<line x1="218.15" x2="297.65" y1="352.35" y2="352.35" stroke="#E6E6E6" stroke-width="1.3"/>
<line x1="218.15" x2="297.65" y1="332.2" y2="332.2" stroke="#E6E6E6" stroke-width="1.3"/>
<line x1="218.15" x2="297.65" y1="312.05" y2="312.05" stroke="#E6E6E6" stroke-width="1.3"/>
<line x1="218.15" x2="297.65" y1="291.9" y2="291.9" stroke="#E6E6E6" stroke-width="1.3"/>
<line x1="224.45" x2="224.45" y1="289.90" y2="378.90" stroke="#E6E6E6" stroke-width="1.3"/>
<line x1="237.85" x2="237.85" y1="289.90" y2="378.90" stroke="#E6E6E6" stroke-width="1.3"/>
<line x1="251.25" x2="251.25" y1="289.90" y2="378.90" stroke="#E6E6E6" stroke-width="1.3"/>
<line x1="264.65" x2="264.65" y1="289.90" y2="378.90" stroke="#E6E6E6" stroke-width="1.3"/>
<line x1="278.05" x2="278.05" y1="289.90" y2="378.90" stroke="#E6E6E6" stroke-width="1.3"/>
<line x1="291.45" x2="291.45" y1="289.90" y2="378.90" stroke="#E6E6E6" stroke-width="1.3"/>
<line x1="224.45" x2="224.45" y1="337.0" y2="338.9" stroke="#B6B6B6" stroke-width="1.2"/>
<line x1="224.45" x2="224.45" y1="346.3" y2="349.4" stroke="#B6B6B6" stroke-width="1.2"/>
<rect x="219.55" y="338.9" width="9.8" height="7.40" fill="#EA1A0C" stroke="#9a9a9a" stroke-width="0.5"/>
<line x1="219.55" x2="229.35" y1="344.8" y2="344.8" stroke="#A8A8A8" stroke-width="1.35"/>
<circle cx="224.45" cy="343.0" r="1.65" fill="#f6f6f6"/><circle cx="224.45" cy="343.0" r="1.0" fill="#2a2a2a"/>
<line x1="237.85" x2="237.85" y1="329.5" y2="334.5" stroke="#B6B6B6" stroke-width="1.2"/>
<line x1="237.85" x2="237.85" y1="341.2" y2="348.5" stroke="#B6B6B6" stroke-width="1.2"/>
<rect x="232.95" y="334.5" width="9.8" height="6.70" fill="#0F2A56" stroke="#9a9a9a" stroke-width="0.5"/>
<line x1="232.95" x2="242.75" y1="337.6" y2="337.6" stroke="#A8A8A8" stroke-width="1.35"/>
<circle cx="237.85" cy="336.3" r="1.65" fill="#f6f6f6"/><circle cx="237.85" cy="336.3" r="1.0" fill="#2a2a2a"/>
<line x1="251.25" x2="251.25" y1="324.4" y2="335.8" stroke="#B6B6B6" stroke-width="1.2"/>
<line x1="251.25" x2="251.25" y1="346.3" y2="353.0" stroke="#B6B6B6" stroke-width="1.2"/>
<rect x="246.35" y="335.8" width="9.8" height="10.50" fill="#FFD500" stroke="#9a9a9a" stroke-width="0.5"/>
<line x1="246.35" x2="256.15" y1="343.9" y2="343.9" stroke="#A8A8A8" stroke-width="1.35"/>
<circle cx="251.25" cy="340.0" r="1.65" fill="#f6f6f6"/><circle cx="251.25" cy="340.0" r="1.0" fill="#2a2a2a"/>
<rect x="259.75" y="343.6" width="9.8" height="6.10" fill="#119A2C" stroke="#9a9a9a" stroke-width="0.5"/>
<line x1="259.75" x2="269.55" y1="344.5" y2="344.5" stroke="#A8A8A8" stroke-width="1.35"/>
<circle cx="264.65" cy="346.1" r="1.65" fill="#f6f6f6"/><circle cx="264.65" cy="346.1" r="1.0" fill="#2a2a2a"/>
<line x1="273.15" x2="282.95" y1="335.4" y2="335.4" stroke="#B4B4B4" stroke-width="1.5"/>
<circle cx="278.05" cy="335.4" r="1.9" fill="#fff"/><circle cx="278.05" cy="335.4" r="1.0" fill="#111"/>
<line x1="291.45" x2="291.45" y1="336.3" y2="341.2" stroke="#B6B6B6" stroke-width="1.2"/>
<line x1="291.45" x2="291.45" y1="346.3" y2="352.1" stroke="#B6B6B6" stroke-width="1.2"/>
<rect x="286.55" y="341.2" width="9.8" height="5.10" fill="#BDBDBD" stroke="#9a9a9a" stroke-width="0.5"/>
<line x1="286.55" x2="296.35" y1="343.6" y2="343.6" stroke="#A8A8A8" stroke-width="1.35"/>
<circle cx="291.45" cy="340.7" r="1.65" fill="#f6f6f6"/><circle cx="291.45" cy="340.7" r="1.0" fill="#2a2a2a"/>
<rect x="216.55" y="288.3" width="82.7" height="92.20" fill="none" stroke="#5c5c5c" stroke-width="1.1" rx="1.2"/>
</g>
<g>
<line x1="304.55" x2="384.05" y1="362.4" y2="362.4" stroke="#F3F3F3" stroke-width="0.9"/>
<line x1="304.55" x2="384.05" y1="342.3" y2="342.3" stroke="#F3F3F3" stroke-width="0.9"/>
<line x1="304.55" x2="384.05" y1="322.1" y2="322.1" stroke="#F3F3F3" stroke-width="0.9"/>
<line x1="304.55" x2="384.05" y1="302.0" y2="302.0" stroke="#F3F3F3" stroke-width="0.9"/>
<line x1="304.55" x2="384.05" y1="372.5" y2="372.5" stroke="#E6E6E6" stroke-width="1.3"/>
<line x1="304.55" x2="384.05" y1="352.35" y2="352.35" stroke="#E6E6E6" stroke-width="1.3"/>
<line x1="304.55" x2="384.05" y1="332.2" y2="332.2" stroke="#E6E6E6" stroke-width="1.3"/>
<line x1="304.55" x2="384.05" y1="312.05" y2="312.05" stroke="#E6E6E6" stroke-width="1.3"/>
<line x1="304.55" x2="384.05" y1="291.9" y2="291.9" stroke="#E6E6E6" stroke-width="1.3"/>
<line x1="310.85" x2="310.85" y1="289.90" y2="378.90" stroke="#E6E6E6" stroke-width="1.3"/>
<line x1="324.25" x2="324.25" y1="289.90" y2="378.90" stroke="#E6E6E6" stroke-width="1.3"/>
<line x1="337.65" x2="337.65" y1="289.90" y2="378.90" stroke="#E6E6E6" stroke-width="1.3"/>
<line x1="351.05" x2="351.05" y1="289.90" y2="378.90" stroke="#E6E6E6" stroke-width="1.3"/>
<line x1="364.45" x2="364.45" y1="289.90" y2="378.90" stroke="#E6E6E6" stroke-width="1.3"/>
<line x1="377.85" x2="377.85" y1="289.90" y2="378.90" stroke="#E6E6E6" stroke-width="1.3"/>
<line x1="310.85" x2="310.85" y1="330.5" y2="335.6" stroke="#B6B6B6" stroke-width="1.2"/>
<line x1="310.85" x2="310.85" y1="347.7" y2="349.9" stroke="#B6B6B6" stroke-width="1.2"/>
<rect x="305.95" y="335.6" width="9.8" height="12.10" fill="#EA1A0C" stroke="#9a9a9a" stroke-width="0.5"/>
<line x1="305.95" x2="315.75" y1="344.9" y2="344.9" stroke="#A8A8A8" stroke-width="1.35"/>
<circle cx="310.85" cy="340.6" r="1.65" fill="#f6f6f6"/><circle cx="310.85" cy="340.6" r="1.0" fill="#2a2a2a"/>
<line x1="324.25" x2="324.25" y1="296.2" y2="309.2" stroke="#B6B6B6" stroke-width="1.2"/>
<line x1="324.25" x2="324.25" y1="317.5" y2="330.5" stroke="#B6B6B6" stroke-width="1.2"/>
<rect x="319.35" y="309.2" width="9.8" height="8.30" fill="#0F2A56" stroke="#9a9a9a" stroke-width="0.5"/>
<line x1="319.35" x2="329.15" y1="311.6" y2="311.6" stroke="#A8A8A8" stroke-width="1.35"/>
<circle cx="324.25" cy="310.1" r="1.65" fill="#f6f6f6"/><circle cx="324.25" cy="310.1" r="1.0" fill="#2a2a2a"/>
<line x1="337.65" x2="337.65" y1="311.0" y2="313.8" stroke="#B6B6B6" stroke-width="1.2"/>
<line x1="337.65" x2="337.65" y1="334.5" y2="357.3" stroke="#B6B6B6" stroke-width="1.2"/>
<rect x="332.75" y="313.8" width="9.8" height="20.70" fill="#FFD500" stroke="#9a9a9a" stroke-width="0.5"/>
<line x1="332.75" x2="342.55" y1="329.0" y2="329.0" stroke="#A8A8A8" stroke-width="1.35"/>
<circle cx="337.65" cy="320.3" r="1.65" fill="#f6f6f6"/><circle cx="337.65" cy="320.3" r="1.0" fill="#2a2a2a"/>
<line x1="351.05" x2="351.05" y1="335.6" y2="339.4" stroke="#B6B6B6" stroke-width="1.2"/>
<line x1="351.05" x2="351.05" y1="347.1" y2="350.8" stroke="#B6B6B6" stroke-width="1.2"/>
<rect x="346.15" y="339.4" width="9.8" height="7.70" fill="#119A2C" stroke="#9a9a9a" stroke-width="0.5"/>
<line x1="346.15" x2="355.95" y1="343.0" y2="343.0" stroke="#A8A8A8" stroke-width="1.35"/>
<circle cx="351.05" cy="341.2" r="1.65" fill="#f6f6f6"/><circle cx="351.05" cy="341.2" r="1.0" fill="#2a2a2a"/>
<rect x="359.55" y="344.4" width="9.8" height="3.30" fill="#0A12EE" stroke="#9a9a9a" stroke-width="0.5"/>
<line x1="359.55" x2="369.35" y1="344.8" y2="344.8" stroke="#A8A8A8" stroke-width="0.6"/>
<circle cx="364.45" cy="332.3" r="1.65" fill="#f6f6f6"/><circle cx="364.45" cy="332.3" r="1.0" fill="#2a2a2a"/>
<line x1="377.85" x2="377.85" y1="301.7" y2="314.3" stroke="#B6B6B6" stroke-width="1.2"/>
<line x1="377.85" x2="377.85" y1="336.9" y2="358.2" stroke="#B6B6B6" stroke-width="1.2"/>
<rect x="372.95" y="314.3" width="9.8" height="22.60" fill="#BDBDBD" stroke="#9a9a9a" stroke-width="0.5"/>
<line x1="372.95" x2="382.75" y1="331.0" y2="331.0" stroke="#A8A8A8" stroke-width="1.35"/>
<circle cx="377.85" cy="320.8" r="1.65" fill="#f6f6f6"/><circle cx="377.85" cy="320.8" r="1.0" fill="#2a2a2a"/>
<rect x="302.95000000000005" y="288.3" width="82.7" height="92.20" fill="none" stroke="#5c5c5c" stroke-width="1.1" rx="1.2"/>
</g>
<line x1="40.15" x2="43.75" y1="372.5" y2="372.5" stroke="#333" stroke-width="1.1"/>
<text x="38.65" y="375.80" font-size="8.8" text-anchor="end" fill="#4d4d4d" stroke="#4d4d4d" stroke-width="0.18">0.20</text>
<line x1="40.15" x2="43.75" y1="352.35" y2="352.35" stroke="#333" stroke-width="1.1"/>
<text x="38.65" y="355.65" font-size="8.8" text-anchor="end" fill="#4d4d4d" stroke="#4d4d4d" stroke-width="0.18">0.25</text>
<line x1="40.15" x2="43.75" y1="332.2" y2="332.2" stroke="#333" stroke-width="1.1"/>
<text x="38.65" y="335.50" font-size="8.8" text-anchor="end" fill="#4d4d4d" stroke="#4d4d4d" stroke-width="0.18">0.30</text>
<line x1="40.15" x2="43.75" y1="312.05" y2="312.05" stroke="#333" stroke-width="1.1"/>
<text x="38.65" y="315.35" font-size="8.8" text-anchor="end" fill="#4d4d4d" stroke="#4d4d4d" stroke-width="0.18">0.35</text>
<line x1="40.15" x2="43.75" y1="291.9" y2="291.9" stroke="#333" stroke-width="1.1"/>
<text x="38.65" y="295.20" font-size="8.8" text-anchor="end" fill="#4d4d4d" stroke="#4d4d4d" stroke-width="0.18">0.40</text>
<text transform="translate(8.3,47.2) rotate(-90)" font-size="9.1" text-anchor="middle" fill="#111"  stroke="#111" stroke-width="0.3">kg CO<tspan font-size="6" dy="2">2</tspan><tspan dy="-2"> eq./GJ el.</tspan></text>
<text transform="translate(8.8,143.0) rotate(-90)" font-size="9.65" text-anchor="middle" fill="#111"  stroke="#111" stroke-width="0.3">m<tspan font-size="6.2" dy="-3.2" dx="0.6">3</tspan><tspan dy="3.2"> freshw. cons./GJ el.</tspan></text>
<text transform="translate(9.0,247.0) rotate(-90)" font-size="9.5" text-anchor="middle" fill="#111"  stroke="#111" stroke-width="0.3">MJ heat to freshw./GJ el.</text>
<text transform="translate(8.7,352.5) rotate(-90)" font-size="9.2" text-anchor="middle" fill="#111"  stroke="#111" stroke-width="0.3">Overall el. efficiency (-)</text>
<text x="14" y="288.2" font-size="8.6" font-weight="bold" fill="#111" stroke="#111" stroke-width="0.3">b)</text>
<line x1="405.2" x2="405.2" y1="145.7" y2="160.8" stroke="#B6B6B6" stroke-width="0.8"/>
<rect x="398.6" y="148.6" width="13.1" height="8.8" fill="#EA1A0C" stroke="#a0a0a0" stroke-width="0.5"/>
<line x1="398.6" x2="411.7" y1="153.0" y2="153.0" stroke="#A8A8A8" stroke-width="1.1"/>
<text x="414.2" y="156.2" font-size="8.5" fill="#1a1a1a" stroke="#1a1a1a" stroke-width="0.3">China</text>
<line x1="405.2" x2="405.2" y1="164.0" y2="179.10000000000002" stroke="#B6B6B6" stroke-width="0.8"/>
<rect x="398.6" y="166.9" width="13.1" height="8.8" fill="#0F2A56" stroke="#a0a0a0" stroke-width="0.5"/>
<line x1="398.6" x2="411.7" y1="171.3" y2="171.3" stroke="#A8A8A8" stroke-width="1.1"/>
<text x="414.2" y="174.5" font-size="8.5" fill="#1a1a1a" stroke="#1a1a1a" stroke-width="0.3">United States</text>
<line x1="405.2" x2="405.2" y1="182.29999999999998" y2="197.4" stroke="#B6B6B6" stroke-width="0.8"/>
<rect x="398.6" y="185.2" width="13.1" height="8.8" fill="#FFD500" stroke="#a0a0a0" stroke-width="0.5"/>
<line x1="398.6" x2="411.7" y1="189.6" y2="189.6" stroke="#A8A8A8" stroke-width="1.1"/>
<text x="414.2" y="192.79999999999998" font-size="8.5" fill="#1a1a1a" stroke="#1a1a1a" stroke-width="0.3">Europe</text>
<line x1="405.2" x2="405.2" y1="200.6" y2="215.70000000000002" stroke="#B6B6B6" stroke-width="0.8"/>
<rect x="398.6" y="203.5" width="13.1" height="8.8" fill="#119A2C" stroke="#a0a0a0" stroke-width="0.5"/>
<line x1="398.6" x2="411.7" y1="207.9" y2="207.9" stroke="#A8A8A8" stroke-width="1.1"/>
<text x="414.2" y="211.1" font-size="8.5" fill="#1a1a1a" stroke="#1a1a1a" stroke-width="0.3">India</text>
<line x1="405.2" x2="405.2" y1="218.89999999999998" y2="234.0" stroke="#B6B6B6" stroke-width="0.8"/>
<rect x="398.6" y="221.79999999999998" width="13.1" height="8.8" fill="#0A12EE" stroke="#a0a0a0" stroke-width="0.5"/>
<line x1="398.6" x2="411.7" y1="226.2" y2="226.2" stroke="#A8A8A8" stroke-width="1.1"/>
<text x="414.2" y="229.39999999999998" font-size="8.5" fill="#1a1a1a" stroke="#1a1a1a" stroke-width="0.3">Russia</text>
<line x1="405.2" x2="405.2" y1="237.2" y2="252.3" stroke="#B6B6B6" stroke-width="0.8"/>
<rect x="398.6" y="240.1" width="13.1" height="8.8" fill="#BDBDBD" stroke="#a0a0a0" stroke-width="0.5"/>
<line x1="398.6" x2="411.7" y1="244.5" y2="244.5" stroke="#A8A8A8" stroke-width="1.1"/>
<text x="414.2" y="247.7" font-size="8.5" fill="#1a1a1a" stroke="#1a1a1a" stroke-width="0.3">Other</text>
<text transform="translate(57.60,383.9) rotate(-90) scale(1,1.12)" font-size="9.4" text-anchor="end" fill="#111" stroke="#111" stroke-width="0.2">2426</text>
<text transform="translate(58.90,408.3) rotate(-90) scale(1,1.12)" font-size="9.4" text-anchor="end" fill="#1a6acc" stroke="#1a6acc" stroke-width="0.2">8</text>
<text transform="translate(59.00,431.8) rotate(-90) scale(1,1.12)" font-size="9.4" text-anchor="end" fill="#13a534" stroke="#13a534" stroke-width="0.2">300</text>
<text transform="translate(71.80,383.9) rotate(-90) scale(1,1.12)" font-size="9.4" text-anchor="end" fill="#111" stroke="#111" stroke-width="0.2">931</text>
<text transform="translate(73.10,408.3) rotate(-90) scale(1,1.12)" font-size="9.4" text-anchor="end" fill="#1a6acc" stroke="#1a6acc" stroke-width="0.2">43</text>
<text transform="translate(73.20,431.8) rotate(-90) scale(1,1.12)" font-size="9.4" text-anchor="end" fill="#13a534" stroke="#13a534" stroke-width="0.2">255</text>
<text transform="translate(86.00,383.9) rotate(-90) scale(1,1.12)" font-size="9.4" text-anchor="end" fill="#111" stroke="#111" stroke-width="0.2">796</text>
<text transform="translate(87.30,408.3) rotate(-90) scale(1,1.12)" font-size="9.4" text-anchor="end" fill="#1a6acc" stroke="#1a6acc" stroke-width="0.2">36</text>
<text transform="translate(87.40,431.8) rotate(-90) scale(1,1.12)" font-size="9.4" text-anchor="end" fill="#13a534" stroke="#13a534" stroke-width="0.2">210</text>
<text transform="translate(100.20,383.9) rotate(-90) scale(1,1.12)" font-size="9.4" text-anchor="end" fill="#111" stroke="#111" stroke-width="0.2">556</text>
<text transform="translate(101.50,408.3) rotate(-90) scale(1,1.12)" font-size="9.4" text-anchor="end" fill="#1a6acc" stroke="#1a6acc" stroke-width="0.2">21</text>
<text transform="translate(101.60,431.8) rotate(-90) scale(1,1.12)" font-size="9.4" text-anchor="end" fill="#13a534" stroke="#13a534" stroke-width="0.2">210</text>
<text transform="translate(114.40,383.9) rotate(-90) scale(1,1.12)" font-size="9.4" text-anchor="end" fill="#111" stroke="#111" stroke-width="0.2">343</text>
<text transform="translate(115.70,408.3) rotate(-90) scale(1,1.12)" font-size="9.4" text-anchor="end" fill="#1a6acc" stroke="#1a6acc" stroke-width="0.2">38</text>
<text transform="translate(115.80,431.8) rotate(-90) scale(1,1.12)" font-size="9.4" text-anchor="end" fill="#13a534" stroke="#13a534" stroke-width="0.2">100</text>
<text transform="translate(128.60,383.9) rotate(-90) scale(1,1.12)" font-size="9.4" text-anchor="end" fill="#111" stroke="#111" stroke-width="0.2">911</text>
<text transform="translate(129.90,408.3) rotate(-90) scale(1,1.12)" font-size="9.4" text-anchor="end" fill="#1a6acc" stroke="#1a6acc" stroke-width="0.2">27</text>
<text transform="translate(130.00,431.8) rotate(-90) scale(1,1.12)" font-size="9.4" text-anchor="end" fill="#13a534" stroke="#13a534" stroke-width="0.2">200</text>
<text transform="translate(142.80,383.9) rotate(-90) scale(1,1.12)" font-size="9.4" text-anchor="end" fill="#111" stroke="#111" stroke-width="0.2">73</text>
<text transform="translate(144.10,408.3) rotate(-90) scale(1,1.12)" font-size="9.4" text-anchor="end" fill="#1a6acc" stroke="#1a6acc" stroke-width="0.2">5</text>
<text transform="translate(144.20,431.8) rotate(-90) scale(1,1.12)" font-size="9.4" text-anchor="end" fill="#13a534" stroke="#13a534" stroke-width="0.2">390</text>
<text transform="translate(157.00,383.9) rotate(-90) scale(1,1.12)" font-size="9.4" text-anchor="end" fill="#111" stroke="#111" stroke-width="0.2">336</text>
<text transform="translate(158.30,408.3) rotate(-90) scale(1,1.12)" font-size="9.4" text-anchor="end" fill="#1a6acc" stroke="#1a6acc" stroke-width="0.2">46</text>
<text transform="translate(158.40,431.8) rotate(-90) scale(1,1.12)" font-size="9.4" text-anchor="end" fill="#13a534" stroke="#13a534" stroke-width="0.2">169</text>
<text transform="translate(171.20,383.9) rotate(-90) scale(1,1.12)" font-size="9.4" text-anchor="end" fill="#111" stroke="#111" stroke-width="0.2">273</text>
<text transform="translate(172.50,408.3) rotate(-90) scale(1,1.12)" font-size="9.4" text-anchor="end" fill="#1a6acc" stroke="#1a6acc" stroke-width="0.2">16</text>
<text transform="translate(172.60,431.8) rotate(-90) scale(1,1.12)" font-size="9.4" text-anchor="end" fill="#13a534" stroke="#13a534" stroke-width="0.2">335</text>
<text transform="translate(185.40,383.9) rotate(-90) scale(1,1.12)" font-size="9.4" text-anchor="end" fill="#111" stroke="#111" stroke-width="0.2">5</text>
<text transform="translate(186.70,408.3) rotate(-90) scale(1,1.12)" font-size="9.4" text-anchor="end" fill="#1a6acc" stroke="#1a6acc" stroke-width="0.2">3</text>
<text transform="translate(186.80,431.8) rotate(-90) scale(1,1.12)" font-size="9.4" text-anchor="end" fill="#13a534" stroke="#13a534" stroke-width="0.2">383</text>
<text transform="translate(199.60,383.9) rotate(-90) scale(1,1.12)" font-size="9.4" text-anchor="end" fill="#111" stroke="#111" stroke-width="0.2">574</text>
<text transform="translate(200.90,408.3) rotate(-90) scale(1,1.12)" font-size="9.4" text-anchor="end" fill="#1a6acc" stroke="#1a6acc" stroke-width="0.2">36</text>
<text transform="translate(201.00,431.8) rotate(-90) scale(1,1.12)" font-size="9.4" text-anchor="end" fill="#13a534" stroke="#13a534" stroke-width="0.2">103</text>
<text transform="translate(213.80,383.9) rotate(-90) scale(1,1.12)" font-size="9.4" text-anchor="end" fill="#111" stroke="#111" stroke-width="0.2">763</text>
<text transform="translate(215.10,408.3) rotate(-90) scale(1,1.12)" font-size="9.4" text-anchor="end" fill="#1a6acc" stroke="#1a6acc" stroke-width="0.2">28</text>
<text transform="translate(215.20,431.8) rotate(-90) scale(1,1.12)" font-size="9.4" text-anchor="end" fill="#13a534" stroke="#13a534" stroke-width="0.2">200</text>
<text transform="translate(228.00,383.9) rotate(-90) scale(1,1.12)" font-size="9.4" text-anchor="end" fill="#111" stroke="#111" stroke-width="0.2">14</text>
<text transform="translate(229.30,408.3) rotate(-90) scale(1,1.12)" font-size="9.4" text-anchor="end" fill="#1a6acc" stroke="#1a6acc" stroke-width="0.2">9</text>
<text transform="translate(229.40,431.8) rotate(-90) scale(1,1.12)" font-size="9.4" text-anchor="end" fill="#13a534" stroke="#13a534" stroke-width="0.2">984</text>
<text transform="translate(242.20,383.9) rotate(-90) scale(1,1.12)" font-size="9.4" text-anchor="end" fill="#111" stroke="#111" stroke-width="0.2">103</text>
<text transform="translate(243.50,408.3) rotate(-90) scale(1,1.12)" font-size="9.4" text-anchor="end" fill="#1a6acc" stroke="#1a6acc" stroke-width="0.2">33</text>
<text transform="translate(243.60,431.8) rotate(-90) scale(1,1.12)" font-size="9.4" text-anchor="end" fill="#13a534" stroke="#13a534" stroke-width="0.2">1098</text>
<text transform="translate(256.40,383.9) rotate(-90) scale(1,1.12)" font-size="9.4" text-anchor="end" fill="#111" stroke="#111" stroke-width="0.2">138</text>
<text transform="translate(257.70,408.3) rotate(-90) scale(1,1.12)" font-size="9.4" text-anchor="end" fill="#1a6acc" stroke="#1a6acc" stroke-width="0.2">28</text>
<text transform="translate(257.80,431.8) rotate(-90) scale(1,1.12)" font-size="9.4" text-anchor="end" fill="#13a534" stroke="#13a534" stroke-width="0.2">954</text>
<text transform="translate(270.60,383.9) rotate(-90) scale(1,1.12)" font-size="9.4" text-anchor="end" fill="#111" stroke="#111" stroke-width="0.2">20</text>
<text transform="translate(271.90,408.3) rotate(-90) scale(1,1.12)" font-size="9.4" text-anchor="end" fill="#1a6acc" stroke="#1a6acc" stroke-width="0.2">15</text>
<text transform="translate(272.00,431.8) rotate(-90) scale(1,1.12)" font-size="9.4" text-anchor="end" fill="#13a534" stroke="#13a534" stroke-width="0.2">220</text>
<text transform="translate(284.80,383.9) rotate(-90) scale(1,1.12)" font-size="9.4" text-anchor="end" fill="#111" stroke="#111" stroke-width="0.2">28</text>
<text transform="translate(286.10,408.3) rotate(-90) scale(1,1.12)" font-size="9.4" text-anchor="end" fill="#1a6acc" stroke="#1a6acc" stroke-width="0.2">29.5</text>
<text transform="translate(286.20,431.8) rotate(-90) scale(1,1.12)" font-size="9.4" text-anchor="end" fill="#13a534" stroke="#13a534" stroke-width="0.2">1000</text>
<text transform="translate(299.00,383.9) rotate(-90) scale(1,1.12)" font-size="9.4" text-anchor="end" fill="#111" stroke="#111" stroke-width="0.2">110</text>
<text transform="translate(300.30,408.3) rotate(-90) scale(1,1.12)" font-size="9.4" text-anchor="end" fill="#1a6acc" stroke="#1a6acc" stroke-width="0.2">26</text>
<text transform="translate(300.40,431.8) rotate(-90) scale(1,1.12)" font-size="9.4" text-anchor="end" fill="#13a534" stroke="#13a534" stroke-width="0.2">935</text>
<text transform="translate(313.20,383.9) rotate(-90) scale(1,1.12)" font-size="9.4" text-anchor="end" fill="#111" stroke="#111" stroke-width="0.2">36</text>
<text transform="translate(314.50,408.3) rotate(-90) scale(1,1.12)" font-size="9.4" text-anchor="end" fill="#1a6acc" stroke="#1a6acc" stroke-width="0.2">17.5</text>
<text transform="translate(314.60,431.8) rotate(-90) scale(1,1.12)" font-size="9.4" text-anchor="end" fill="#13a534" stroke="#13a534" stroke-width="0.2">60</text>
<text transform="translate(327.40,383.9) rotate(-90) scale(1,1.12)" font-size="9.4" text-anchor="end" fill="#111" stroke="#111" stroke-width="0.2">102</text>
<text transform="translate(328.70,408.3) rotate(-90) scale(1,1.12)" font-size="9.4" text-anchor="end" fill="#1a6acc" stroke="#1a6acc" stroke-width="0.2">40.5</text>
<text transform="translate(328.80,431.8) rotate(-90) scale(1,1.12)" font-size="9.4" text-anchor="end" fill="#13a534" stroke="#13a534" stroke-width="0.2">163</text>
<text transform="translate(341.60,383.9) rotate(-90) scale(1,1.12)" font-size="9.4" text-anchor="end" fill="#111" stroke="#111" stroke-width="0.2">192</text>
<text transform="translate(342.90,408.3) rotate(-90) scale(1,1.12)" font-size="9.4" text-anchor="end" fill="#1a6acc" stroke="#1a6acc" stroke-width="0.2">38</text>
<text transform="translate(343.00,431.8) rotate(-90) scale(1,1.12)" font-size="9.4" text-anchor="end" fill="#13a534" stroke="#13a534" stroke-width="0.2">160</text>
<text transform="translate(355.80,383.9) rotate(-90) scale(1,1.12)" font-size="9.4" text-anchor="end" fill="#111" stroke="#111" stroke-width="0.2">2</text>
<text transform="translate(357.10,408.3) rotate(-90) scale(1,1.12)" font-size="9.4" text-anchor="end" fill="#1a6acc" stroke="#1a6acc" stroke-width="0.2">13.5</text>
<text transform="translate(357.20,431.8) rotate(-90) scale(1,1.12)" font-size="9.4" text-anchor="end" fill="#13a534" stroke="#13a534" stroke-width="0.2">67</text>
<text transform="translate(370.00,383.9) rotate(-90) scale(1,1.12)" font-size="9.4" text-anchor="end" fill="#111" stroke="#111" stroke-width="0.2">34</text>
<text transform="translate(371.30,408.3) rotate(-90) scale(1,1.12)" font-size="9.4" text-anchor="end" fill="#1a6acc" stroke="#1a6acc" stroke-width="0.2">310</text>
<text transform="translate(371.40,431.8) rotate(-90) scale(1,1.12)" font-size="9.4" text-anchor="end" fill="#13a534" stroke="#13a534" stroke-width="0.2">90</text>
<text transform="translate(384.20,383.9) rotate(-90) scale(1,1.12)" font-size="9.4" text-anchor="end" fill="#111" stroke="#111" stroke-width="0.2">660</text>
<text transform="translate(385.50,408.3) rotate(-90) scale(1,1.12)" font-size="9.4" text-anchor="end" fill="#1a6acc" stroke="#1a6acc" stroke-width="0.2">31</text>
<text transform="translate(385.60,431.8) rotate(-90) scale(1,1.12)" font-size="9.4" text-anchor="end" fill="#13a534" stroke="#13a534" stroke-width="0.2">150</text>
<line x1="43.8" y1="405.9" x2="443.5" y2="404.3" stroke="#333" stroke-width="1.2" stroke-dasharray="3.1,2.2"/>
<line x1="43.8" y1="429.6" x2="443.5" y2="428.6" stroke="#333" stroke-width="1.2" stroke-dasharray="3.1,2.2"/>
<text x="394.1" y="395.2" font-size="9.5" fill="#111" stroke="#111" stroke-width="0.3"># units</text>
<text x="392" y="417.9" font-size="9.45" fill="#1a6acc" stroke="#1a6acc" stroke-width="0.3">median age</text>
<text x="390.8" y="441.2" font-size="9.3" fill="#13a534" stroke="#13a534" stroke-width="0.3">median MW</text>
<rect x="47.35" y="460.10" width="9.6" height="8.72" fill="#8DD3C7" stroke="#474747" stroke-width="0.5"/>
<rect x="47.35" y="468.82" width="9.6" height="13.63" fill="#FFFFB3" stroke="#474747" stroke-width="0.5"/>
<rect x="47.35" y="482.46" width="9.6" height="7.04" fill="#BEBADA" stroke="#474747" stroke-width="0.5"/>
<rect x="47.35" y="489.49" width="9.6" height="43.91" fill="#FB8072" stroke="#474747" stroke-width="0.5"/>
<rect x="60.75" y="460.10" width="9.6" height="0.73" fill="#8DD3C7" stroke="#474747" stroke-width="0.5"/>
<rect x="60.75" y="460.83" width="9.6" height="2.71" fill="#FFFFB3" stroke="#474747" stroke-width="0.5"/>
<rect x="60.75" y="463.55" width="9.6" height="33.20" fill="#BEBADA" stroke="#474747" stroke-width="0.5"/>
<rect x="60.75" y="496.75" width="9.6" height="36.65" fill="#FB8072" stroke="#474747" stroke-width="0.5"/>
<rect x="74.15" y="460.10" width="9.6" height="14.44" fill="#FFFFB3" stroke="#474747" stroke-width="0.5"/>
<rect x="74.15" y="474.54" width="9.6" height="14.51" fill="#BEBADA" stroke="#474747" stroke-width="0.5"/>
<rect x="74.15" y="489.05" width="9.6" height="44.35" fill="#FB8072" stroke="#474747" stroke-width="0.5"/>
<rect x="87.55" y="460.10" width="9.6" height="5.35" fill="#FFFFB3" stroke="#474747" stroke-width="0.5"/>
<rect x="87.55" y="465.45" width="9.6" height="13.63" fill="#BEBADA" stroke="#474747" stroke-width="0.5"/>
<rect x="87.55" y="479.08" width="9.6" height="54.32" fill="#FB8072" stroke="#474747" stroke-width="0.5"/>
<rect x="100.95" y="460.10" width="9.6" height="2.42" fill="#FFFFB3" stroke="#474747" stroke-width="0.5"/>
<rect x="100.95" y="462.52" width="9.6" height="46.91" fill="#BEBADA" stroke="#474747" stroke-width="0.5"/>
<rect x="100.95" y="509.43" width="9.6" height="23.97" fill="#FB8072" stroke="#474747" stroke-width="0.5"/>
<rect x="114.35" y="460.10" width="9.6" height="4.32" fill="#8DD3C7" stroke="#474747" stroke-width="0.5"/>
<rect x="114.35" y="464.42" width="9.6" height="37.97" fill="#FFFFB3" stroke="#474747" stroke-width="0.5"/>
<rect x="114.35" y="502.39" width="9.6" height="8.94" fill="#BEBADA" stroke="#474747" stroke-width="0.5"/>
<rect x="114.35" y="511.34" width="9.6" height="22.06" fill="#FB8072" stroke="#474747" stroke-width="0.5"/>
<rect x="133.85" y="460.10" width="9.6" height="39.80" fill="#FFFFB3" stroke="#474747" stroke-width="0.5"/>
<rect x="133.85" y="499.90" width="9.6" height="4.40" fill="#BEBADA" stroke="#474747" stroke-width="0.5"/>
<rect x="133.85" y="504.30" width="9.6" height="29.10" fill="#FB8072" stroke="#474747" stroke-width="0.5"/>
<rect x="147.25" y="460.10" width="9.6" height="4.91" fill="#8DD3C7" stroke="#474747" stroke-width="0.5"/>
<rect x="147.25" y="465.01" width="9.6" height="20.23" fill="#FFFFB3" stroke="#474747" stroke-width="0.5"/>
<rect x="147.25" y="485.24" width="9.6" height="27.63" fill="#BEBADA" stroke="#474747" stroke-width="0.5"/>
<rect x="147.25" y="512.88" width="9.6" height="20.52" fill="#FB8072" stroke="#474747" stroke-width="0.5"/>
<rect x="160.65" y="460.10" width="9.6" height="6.82" fill="#8DD3C7" stroke="#474747" stroke-width="0.5"/>
<rect x="160.65" y="466.92" width="9.6" height="23.53" fill="#FFFFB3" stroke="#474747" stroke-width="0.5"/>
<rect x="160.65" y="490.45" width="9.6" height="8.80" fill="#BEBADA" stroke="#474747" stroke-width="0.5"/>
<rect x="160.65" y="499.24" width="9.6" height="34.16" fill="#FB8072" stroke="#474747" stroke-width="0.5"/>
<rect x="174.05" y="460.10" width="9.6" height="18.98" fill="#FFFFB3" stroke="#474747" stroke-width="0.5"/>
<rect x="174.05" y="479.08" width="9.6" height="54.32" fill="#FB8072" stroke="#474747" stroke-width="0.5"/>
<rect x="187.45" y="460.10" width="9.6" height="37.60" fill="#BEBADA" stroke="#474747" stroke-width="0.5"/>
<rect x="187.45" y="497.70" width="9.6" height="35.70" fill="#FB8072" stroke="#474747" stroke-width="0.5"/>
<rect x="200.85" y="460.10" width="9.6" height="1.83" fill="#8DD3C7" stroke="#474747" stroke-width="0.5"/>
<rect x="200.85" y="461.93" width="9.6" height="46.18" fill="#FFFFB3" stroke="#474747" stroke-width="0.5"/>
<rect x="200.85" y="508.11" width="9.6" height="12.39" fill="#BEBADA" stroke="#474747" stroke-width="0.5"/>
<rect x="200.85" y="520.50" width="9.6" height="12.90" fill="#FB8072" stroke="#474747" stroke-width="0.5"/>
<rect x="220.35" y="460.10" width="9.6" height="73.30" fill="#FFFFB3" stroke="#474747" stroke-width="0.5"/>
<rect x="233.75" y="460.10" width="9.6" height="15.32" fill="#FFFFB3" stroke="#474747" stroke-width="0.5"/>
<rect x="233.75" y="475.42" width="9.6" height="26.09" fill="#BEBADA" stroke="#474747" stroke-width="0.5"/>
<rect x="233.75" y="501.51" width="9.6" height="31.89" fill="#FB8072" stroke="#474747" stroke-width="0.5"/>
<rect x="247.15" y="460.10" width="9.6" height="23.68" fill="#FFFFB3" stroke="#474747" stroke-width="0.5"/>
<rect x="247.15" y="483.78" width="9.6" height="18.25" fill="#BEBADA" stroke="#474747" stroke-width="0.5"/>
<rect x="247.15" y="502.03" width="9.6" height="31.37" fill="#FB8072" stroke="#474747" stroke-width="0.5"/>
<rect x="260.55" y="460.10" width="9.6" height="27.19" fill="#FFFFB3" stroke="#474747" stroke-width="0.5"/>
<rect x="260.55" y="487.29" width="9.6" height="46.11" fill="#FB8072" stroke="#474747" stroke-width="0.5"/>
<rect x="273.95" y="460.10" width="9.6" height="18.18" fill="#FFFFB3" stroke="#474747" stroke-width="0.5"/>
<rect x="273.95" y="478.28" width="9.6" height="47.28" fill="#BEBADA" stroke="#474747" stroke-width="0.5"/>
<rect x="273.95" y="525.56" width="9.6" height="7.84" fill="#FB8072" stroke="#474747" stroke-width="0.5"/>
<rect x="287.35" y="460.10" width="9.6" height="39.80" fill="#FFFFB3" stroke="#474747" stroke-width="0.5"/>
<rect x="287.35" y="499.90" width="9.6" height="29.69" fill="#BEBADA" stroke="#474747" stroke-width="0.5"/>
<rect x="287.35" y="529.59" width="9.6" height="3.81" fill="#FB8072" stroke="#474747" stroke-width="0.5"/>
<rect x="306.85" y="460.10" width="9.6" height="19.13" fill="#FFFFB3" stroke="#474747" stroke-width="0.5"/>
<rect x="306.85" y="479.23" width="9.6" height="8.06" fill="#BEBADA" stroke="#474747" stroke-width="0.5"/>
<rect x="306.85" y="487.29" width="9.6" height="46.11" fill="#FB8072" stroke="#474747" stroke-width="0.5"/>
<rect x="320.25" y="460.10" width="9.6" height="42.73" fill="#FFFFB3" stroke="#474747" stroke-width="0.5"/>
<rect x="320.25" y="502.83" width="9.6" height="17.01" fill="#BEBADA" stroke="#474747" stroke-width="0.5"/>
<rect x="320.25" y="519.84" width="9.6" height="13.56" fill="#FB8072" stroke="#474747" stroke-width="0.5"/>
<rect x="333.65" y="460.10" width="9.6" height="44.20" fill="#FFFFB3" stroke="#474747" stroke-width="0.5"/>
<rect x="333.65" y="504.30" width="9.6" height="18.11" fill="#BEBADA" stroke="#474747" stroke-width="0.5"/>
<rect x="333.65" y="522.40" width="9.6" height="11.00" fill="#FB8072" stroke="#474747" stroke-width="0.5"/>
<rect x="347.05" y="460.10" width="9.6" height="27.19" fill="#FFFFB3" stroke="#474747" stroke-width="0.5"/>
<rect x="347.05" y="487.29" width="9.6" height="46.11" fill="#FB8072" stroke="#474747" stroke-width="0.5"/>
<rect x="360.45" y="460.10" width="9.6" height="4.32" fill="#FFFFB3" stroke="#474747" stroke-width="0.5"/>
<rect x="360.45" y="464.42" width="9.6" height="37.09" fill="#BEBADA" stroke="#474747" stroke-width="0.5"/>
<rect x="360.45" y="501.51" width="9.6" height="31.89" fill="#FB8072" stroke="#474747" stroke-width="0.5"/>
<rect x="373.85" y="460.10" width="9.6" height="1.10" fill="#8DD3C7" stroke="#474747" stroke-width="0.5"/>
<rect x="373.85" y="461.20" width="9.6" height="55.49" fill="#FFFFB3" stroke="#474747" stroke-width="0.5"/>
<rect x="373.85" y="516.69" width="9.6" height="7.99" fill="#BEBADA" stroke="#474747" stroke-width="0.5"/>
<rect x="373.85" y="524.68" width="9.6" height="8.72" fill="#FB8072" stroke="#474747" stroke-width="0.5"/>
<rect x="44.25" y="456.6" width="82.7" height="79.80" fill="none" stroke="#5c5c5c" stroke-width="1.1" rx="1.2"/>
<rect x="130.75" y="456.6" width="82.7" height="79.80" fill="none" stroke="#5c5c5c" stroke-width="1.1" rx="1.2"/>
<rect x="217.25" y="456.6" width="82.7" height="79.80" fill="none" stroke="#5c5c5c" stroke-width="1.1" rx="1.2"/>
<rect x="303.75" y="456.6" width="82.7" height="79.80" fill="none" stroke="#5c5c5c" stroke-width="1.1" rx="1.2"/>
<line x1="40.65" x2="44.25" y1="533.40" y2="533.40" stroke="#333" stroke-width="1.1"/>
<text transform="translate(38.75,536.80) scale(0.92,1.05)" font-size="8.8" text-anchor="end" fill="#4d4d4d" stroke="#4d4d4d" stroke-width="0.18">0</text>
<line x1="40.65" x2="44.25" y1="515.08" y2="515.08" stroke="#333" stroke-width="1.1"/>
<text transform="translate(38.75,518.48) scale(0.92,1.05)" font-size="8.8" text-anchor="end" fill="#4d4d4d" stroke="#4d4d4d" stroke-width="0.18">25</text>
<line x1="40.65" x2="44.25" y1="496.75" y2="496.75" stroke="#333" stroke-width="1.1"/>
<text transform="translate(38.75,500.15) scale(0.92,1.05)" font-size="8.8" text-anchor="end" fill="#4d4d4d" stroke="#4d4d4d" stroke-width="0.18">50</text>
<line x1="40.65" x2="44.25" y1="478.43" y2="478.43" stroke="#333" stroke-width="1.1"/>
<text transform="translate(38.75,481.82) scale(0.92,1.05)" font-size="8.8" text-anchor="end" fill="#4d4d4d" stroke="#4d4d4d" stroke-width="0.18">75</text>
<line x1="40.65" x2="44.25" y1="460.10" y2="460.10" stroke="#333" stroke-width="1.1"/>
<text transform="translate(38.75,463.50) scale(0.92,1.05)" font-size="8.8" text-anchor="end" fill="#4d4d4d" stroke="#4d4d4d" stroke-width="0.18">100</text>
<rect x="47.35" y="547.60" width="9.6" height="45.56" fill="#FC8D62" stroke="#474747" stroke-width="0.5"/>
<rect x="47.35" y="593.16" width="9.6" height="18.77" fill="#8DA0CB" stroke="#474747" stroke-width="0.5"/>
<rect x="47.35" y="611.93" width="9.6" height="2.45" fill="#E78AC3" stroke="#474747" stroke-width="0.5"/>
<rect x="47.35" y="614.38" width="9.6" height="7.42" fill="#A6D854" stroke="#474747" stroke-width="0.5"/>
<rect x="60.75" y="547.60" width="9.6" height="2.89" fill="#66C2A5" stroke="#474747" stroke-width="0.5"/>
<rect x="60.75" y="550.49" width="9.6" height="68.12" fill="#FC8D62" stroke="#474747" stroke-width="0.5"/>
<rect x="60.75" y="618.61" width="9.6" height="1.48" fill="#8DA0CB" stroke="#474747" stroke-width="0.5"/>
<rect x="60.75" y="620.09" width="9.6" height="1.71" fill="#A6D854" stroke="#474747" stroke-width="0.5"/>
<rect x="74.15" y="547.60" width="9.6" height="52.24" fill="#FC8D62" stroke="#474747" stroke-width="0.5"/>
<rect x="74.15" y="599.84" width="9.6" height="2.52" fill="#8DA0CB" stroke="#474747" stroke-width="0.5"/>
<rect x="74.15" y="602.36" width="9.6" height="15.43" fill="#E78AC3" stroke="#474747" stroke-width="0.5"/>
<rect x="74.15" y="617.79" width="9.6" height="4.01" fill="#A6D854" stroke="#474747" stroke-width="0.5"/>
<rect x="87.55" y="547.60" width="9.6" height="32.57" fill="#FC8D62" stroke="#474747" stroke-width="0.5"/>
<rect x="87.55" y="580.17" width="9.6" height="41.63" fill="#8DA0CB" stroke="#474747" stroke-width="0.5"/>
<rect x="100.95" y="547.60" width="9.6" height="30.27" fill="#FC8D62" stroke="#474747" stroke-width="0.5"/>
<rect x="100.95" y="577.87" width="9.6" height="8.61" fill="#8DA0CB" stroke="#474747" stroke-width="0.5"/>
<rect x="100.95" y="586.48" width="9.6" height="12.32" fill="#E78AC3" stroke="#474747" stroke-width="0.5"/>
<rect x="100.95" y="598.80" width="9.6" height="23.00" fill="#A6D854" stroke="#474747" stroke-width="0.5"/>
<rect x="114.35" y="547.60" width="9.6" height="58.99" fill="#FC8D62" stroke="#474747" stroke-width="0.5"/>
<rect x="114.35" y="606.59" width="9.6" height="10.31" fill="#8DA0CB" stroke="#474747" stroke-width="0.5"/>
<rect x="114.35" y="616.90" width="9.6" height="2.60" fill="#E78AC3" stroke="#474747" stroke-width="0.5"/>
<rect x="114.35" y="619.50" width="9.6" height="2.30" fill="#A6D854" stroke="#474747" stroke-width="0.5"/>
<rect x="133.85" y="547.60" width="9.6" height="22.41" fill="#FC8D62" stroke="#474747" stroke-width="0.5"/>
<rect x="133.85" y="570.01" width="9.6" height="51.35" fill="#8DA0CB" stroke="#474747" stroke-width="0.5"/>
<rect x="133.85" y="621.35" width="9.6" height="0.45" fill="#A6D854" stroke="#474747" stroke-width="0.5"/>
<rect x="147.25" y="547.60" width="9.6" height="1.34" fill="#66C2A5" stroke="#474747" stroke-width="0.5"/>
<rect x="147.25" y="548.94" width="9.6" height="63.59" fill="#FC8D62" stroke="#474747" stroke-width="0.5"/>
<rect x="147.25" y="612.52" width="9.6" height="8.53" fill="#8DA0CB" stroke="#474747" stroke-width="0.5"/>
<rect x="147.25" y="621.06" width="9.6" height="0.74" fill="#A6D854" stroke="#474747" stroke-width="0.5"/>
<rect x="160.65" y="547.60" width="9.6" height="39.18" fill="#FC8D62" stroke="#474747" stroke-width="0.5"/>
<rect x="160.65" y="586.78" width="9.6" height="24.26" fill="#8DA0CB" stroke="#474747" stroke-width="0.5"/>
<rect x="160.65" y="611.04" width="9.6" height="2.15" fill="#E78AC3" stroke="#474747" stroke-width="0.5"/>
<rect x="160.65" y="613.19" width="9.6" height="8.61" fill="#A6D854" stroke="#474747" stroke-width="0.5"/>
<rect x="174.05" y="547.60" width="9.6" height="19.00" fill="#FC8D62" stroke="#474747" stroke-width="0.5"/>
<rect x="174.05" y="566.60" width="9.6" height="55.20" fill="#8DA0CB" stroke="#474747" stroke-width="0.5"/>
<rect x="187.45" y="547.60" width="9.6" height="28.34" fill="#FC8D62" stroke="#474747" stroke-width="0.5"/>
<rect x="187.45" y="575.94" width="9.6" height="7.27" fill="#8DA0CB" stroke="#474747" stroke-width="0.5"/>
<rect x="187.45" y="583.22" width="9.6" height="8.53" fill="#E78AC3" stroke="#474747" stroke-width="0.5"/>
<rect x="187.45" y="591.75" width="9.6" height="30.05" fill="#A6D854" stroke="#474747" stroke-width="0.5"/>
<rect x="200.85" y="547.60" width="9.6" height="1.34" fill="#66C2A5" stroke="#474747" stroke-width="0.5"/>
<rect x="200.85" y="548.94" width="9.6" height="51.12" fill="#FC8D62" stroke="#474747" stroke-width="0.5"/>
<rect x="200.85" y="600.06" width="9.6" height="16.25" fill="#8DA0CB" stroke="#474747" stroke-width="0.5"/>
<rect x="200.85" y="616.31" width="9.6" height="1.93" fill="#E78AC3" stroke="#474747" stroke-width="0.5"/>
<rect x="200.85" y="618.24" width="9.6" height="3.56" fill="#A6D854" stroke="#474747" stroke-width="0.5"/>
<rect x="220.35" y="547.60" width="9.6" height="25.60" fill="#FC8D62" stroke="#474747" stroke-width="0.5"/>
<rect x="220.35" y="573.20" width="9.6" height="48.60" fill="#8DA0CB" stroke="#474747" stroke-width="0.5"/>
<rect x="233.75" y="547.60" width="9.6" height="57.13" fill="#FC8D62" stroke="#474747" stroke-width="0.5"/>
<rect x="233.75" y="604.73" width="9.6" height="17.07" fill="#8DA0CB" stroke="#474747" stroke-width="0.5"/>
<rect x="247.15" y="547.60" width="9.6" height="20.85" fill="#FC8D62" stroke="#474747" stroke-width="0.5"/>
<rect x="247.15" y="568.45" width="9.6" height="52.09" fill="#8DA0CB" stroke="#474747" stroke-width="0.5"/>
<rect x="247.15" y="620.54" width="9.6" height="1.26" fill="#A6D854" stroke="#474747" stroke-width="0.5"/>
<rect x="260.55" y="547.60" width="9.6" height="38.44" fill="#FC8D62" stroke="#474747" stroke-width="0.5"/>
<rect x="260.55" y="586.04" width="9.6" height="35.76" fill="#8DA0CB" stroke="#474747" stroke-width="0.5"/>
<rect x="273.95" y="547.60" width="9.6" height="71.90" fill="#FC8D62" stroke="#474747" stroke-width="0.5"/>
<rect x="273.95" y="619.50" width="9.6" height="2.30" fill="#E78AC3" stroke="#474747" stroke-width="0.5"/>
<rect x="287.35" y="547.60" width="9.6" height="33.69" fill="#FC8D62" stroke="#474747" stroke-width="0.5"/>
<rect x="287.35" y="581.29" width="9.6" height="40.51" fill="#8DA0CB" stroke="#474747" stroke-width="0.5"/>
<rect x="306.85" y="547.60" width="9.6" height="31.68" fill="#8DA0CB" stroke="#474747" stroke-width="0.5"/>
<rect x="306.85" y="579.28" width="9.6" height="5.56" fill="#E78AC3" stroke="#474747" stroke-width="0.5"/>
<rect x="306.85" y="584.85" width="9.6" height="36.95" fill="#A6D854" stroke="#474747" stroke-width="0.5"/>
<rect x="320.25" y="547.60" width="9.6" height="1.34" fill="#66C2A5" stroke="#474747" stroke-width="0.5"/>
<rect x="320.25" y="548.94" width="9.6" height="68.56" fill="#FC8D62" stroke="#474747" stroke-width="0.5"/>
<rect x="320.25" y="617.50" width="9.6" height="2.60" fill="#8DA0CB" stroke="#474747" stroke-width="0.5"/>
<rect x="320.25" y="620.09" width="9.6" height="1.71" fill="#A6D854" stroke="#474747" stroke-width="0.5"/>
<rect x="333.65" y="547.60" width="9.6" height="49.64" fill="#FC8D62" stroke="#474747" stroke-width="0.5"/>
<rect x="333.65" y="597.24" width="9.6" height="17.14" fill="#8DA0CB" stroke="#474747" stroke-width="0.5"/>
<rect x="333.65" y="614.38" width="9.6" height="1.86" fill="#E78AC3" stroke="#474747" stroke-width="0.5"/>
<rect x="333.65" y="616.24" width="9.6" height="5.56" fill="#A6D854" stroke="#474747" stroke-width="0.5"/>
<rect x="347.05" y="547.60" width="9.6" height="46.97" fill="#8DA0CB" stroke="#474747" stroke-width="0.5"/>
<rect x="347.05" y="594.57" width="9.6" height="27.23" fill="#A6D854" stroke="#474747" stroke-width="0.5"/>
<rect x="360.45" y="547.60" width="9.6" height="27.90" fill="#FC8D62" stroke="#474747" stroke-width="0.5"/>
<rect x="360.45" y="575.50" width="9.6" height="1.48" fill="#8DA0CB" stroke="#474747" stroke-width="0.5"/>
<rect x="360.45" y="576.98" width="9.6" height="44.82" fill="#A6D854" stroke="#474747" stroke-width="0.5"/>
<rect x="373.85" y="547.60" width="9.6" height="0.74" fill="#66C2A5" stroke="#474747" stroke-width="0.5"/>
<rect x="373.85" y="548.34" width="9.6" height="48.53" fill="#FC8D62" stroke="#474747" stroke-width="0.5"/>
<rect x="373.85" y="596.87" width="9.6" height="15.06" fill="#8DA0CB" stroke="#474747" stroke-width="0.5"/>
<rect x="373.85" y="611.93" width="9.6" height="4.82" fill="#E78AC3" stroke="#474747" stroke-width="0.5"/>
<rect x="373.85" y="616.75" width="9.6" height="5.05" fill="#A6D854" stroke="#474747" stroke-width="0.5"/>
<rect x="44.25" y="543.6" width="82.7" height="81.50" fill="none" stroke="#5c5c5c" stroke-width="1.1" rx="1.2"/>
<rect x="130.75" y="543.6" width="82.7" height="81.50" fill="none" stroke="#5c5c5c" stroke-width="1.1" rx="1.2"/>
<rect x="217.25" y="543.6" width="82.7" height="81.50" fill="none" stroke="#5c5c5c" stroke-width="1.1" rx="1.2"/>
<rect x="303.75" y="543.6" width="82.7" height="81.50" fill="none" stroke="#5c5c5c" stroke-width="1.1" rx="1.2"/>
<line x1="40.65" x2="44.25" y1="621.80" y2="621.80" stroke="#333" stroke-width="1.1"/>
<text transform="translate(38.75,625.20) scale(0.92,1.05)" font-size="8.8" text-anchor="end" fill="#4d4d4d" stroke="#4d4d4d" stroke-width="0.18">0</text>
<line x1="40.65" x2="44.25" y1="603.25" y2="603.25" stroke="#333" stroke-width="1.1"/>
<text transform="translate(38.75,606.65) scale(0.92,1.05)" font-size="8.8" text-anchor="end" fill="#4d4d4d" stroke="#4d4d4d" stroke-width="0.18">25</text>
<line x1="40.65" x2="44.25" y1="584.70" y2="584.70" stroke="#333" stroke-width="1.1"/>
<text transform="translate(38.75,588.10) scale(0.92,1.05)" font-size="8.8" text-anchor="end" fill="#4d4d4d" stroke="#4d4d4d" stroke-width="0.18">50</text>
<line x1="40.65" x2="44.25" y1="566.15" y2="566.15" stroke="#333" stroke-width="1.1"/>
<text transform="translate(38.75,569.55) scale(0.92,1.05)" font-size="8.8" text-anchor="end" fill="#4d4d4d" stroke="#4d4d4d" stroke-width="0.18">75</text>
<line x1="40.65" x2="44.25" y1="547.60" y2="547.60" stroke="#333" stroke-width="1.1"/>
<text transform="translate(38.75,551.00) scale(0.92,1.05)" font-size="8.8" text-anchor="end" fill="#4d4d4d" stroke="#4d4d4d" stroke-width="0.18">100</text>
<rect x="46.10" y="634.20" width="9.6" height="60.01" fill="#7FC97F" stroke="#474747" stroke-width="0.5"/>
<rect x="46.10" y="694.21" width="9.6" height="12.29" fill="#FDC086" stroke="#474747" stroke-width="0.5"/>
<rect x="46.10" y="706.50" width="9.6" height="3.83" fill="#FFFF99" stroke="#474747" stroke-width="0.5"/>
<rect x="46.10" y="710.33" width="9.6" height="3.67" fill="#386CB0" stroke="#474747" stroke-width="0.5"/>
<rect x="59.62" y="634.20" width="9.6" height="43.89" fill="#7FC97F" stroke="#474747" stroke-width="0.5"/>
<rect x="59.62" y="678.09" width="9.6" height="25.54" fill="#BEAED4" stroke="#474747" stroke-width="0.5"/>
<rect x="59.62" y="703.63" width="9.6" height="2.87" fill="#FFFF99" stroke="#474747" stroke-width="0.5"/>
<rect x="59.62" y="706.50" width="9.6" height="7.50" fill="#386CB0" stroke="#474747" stroke-width="0.5"/>
<rect x="73.14" y="634.20" width="9.6" height="46.76" fill="#7FC97F" stroke="#474747" stroke-width="0.5"/>
<rect x="73.14" y="680.96" width="9.6" height="0.88" fill="#FDC086" stroke="#474747" stroke-width="0.5"/>
<rect x="73.14" y="681.84" width="9.6" height="26.57" fill="#FFFF99" stroke="#474747" stroke-width="0.5"/>
<rect x="73.14" y="708.41" width="9.6" height="5.59" fill="#386CB0" stroke="#474747" stroke-width="0.5"/>
<rect x="86.66" y="634.20" width="9.6" height="69.98" fill="#7FC97F" stroke="#474747" stroke-width="0.5"/>
<rect x="86.66" y="704.18" width="9.6" height="5.11" fill="#BEAED4" stroke="#474747" stroke-width="0.5"/>
<rect x="86.66" y="709.29" width="9.6" height="4.23" fill="#FFFF99" stroke="#474747" stroke-width="0.5"/>
<rect x="86.66" y="713.52" width="9.6" height="0.48" fill="#386CB0" stroke="#474747" stroke-width="0.5"/>
<rect x="100.18" y="634.20" width="9.6" height="38.30" fill="#7FC97F" stroke="#474747" stroke-width="0.5"/>
<rect x="100.18" y="672.50" width="9.6" height="14.12" fill="#BEAED4" stroke="#474747" stroke-width="0.5"/>
<rect x="100.18" y="686.63" width="9.6" height="3.75" fill="#FDC086" stroke="#474747" stroke-width="0.5"/>
<rect x="100.18" y="690.38" width="9.6" height="15.16" fill="#FFFF99" stroke="#474747" stroke-width="0.5"/>
<rect x="100.18" y="705.54" width="9.6" height="8.46" fill="#386CB0" stroke="#474747" stroke-width="0.5"/>
<rect x="113.70" y="634.20" width="9.6" height="49.24" fill="#7FC97F" stroke="#474747" stroke-width="0.5"/>
<rect x="113.70" y="683.44" width="9.6" height="11.25" fill="#BEAED4" stroke="#474747" stroke-width="0.5"/>
<rect x="113.70" y="694.69" width="9.6" height="1.36" fill="#FDC086" stroke="#474747" stroke-width="0.5"/>
<rect x="113.70" y="696.04" width="9.6" height="6.70" fill="#FFFF99" stroke="#474747" stroke-width="0.5"/>
<rect x="113.70" y="702.75" width="9.6" height="11.25" fill="#386CB0" stroke="#474747" stroke-width="0.5"/>
<rect x="42.7" y="630.6" width="82.7" height="87.00" fill="none" stroke="#5c5c5c" stroke-width="1.1" rx="1.2"/>
<line x1="39.1" x2="42.7" y1="714.00" y2="714.00" stroke="#333" stroke-width="1.1"/>
<text transform="translate(37.90,717.40) scale(0.92,1.05)" font-size="8.8" text-anchor="end" fill="#4d4d4d" stroke="#4d4d4d" stroke-width="0.18">0</text>
<line x1="39.1" x2="42.7" y1="694.05" y2="694.05" stroke="#333" stroke-width="1.1"/>
<text transform="translate(37.90,697.45) scale(0.92,1.05)" font-size="8.8" text-anchor="end" fill="#4d4d4d" stroke="#4d4d4d" stroke-width="0.18">25</text>
<line x1="39.1" x2="42.7" y1="674.10" y2="674.10" stroke="#333" stroke-width="1.1"/>
<text transform="translate(37.90,677.50) scale(0.92,1.05)" font-size="8.8" text-anchor="end" fill="#4d4d4d" stroke="#4d4d4d" stroke-width="0.18">50</text>
<line x1="39.1" x2="42.7" y1="654.15" y2="654.15" stroke="#333" stroke-width="1.1"/>
<text transform="translate(37.90,657.55) scale(0.92,1.05)" font-size="8.8" text-anchor="end" fill="#4d4d4d" stroke="#4d4d4d" stroke-width="0.18">75</text>
<line x1="39.1" x2="42.7" y1="634.20" y2="634.20" stroke="#333" stroke-width="1.1"/>
<text transform="translate(37.90,637.60) scale(0.92,1.05)" font-size="8.8" text-anchor="end" fill="#4d4d4d" stroke="#4d4d4d" stroke-width="0.18">100</text>
<text x="15" y="460.3" font-size="8.6" font-weight="bold" fill="#111" stroke="#111" stroke-width="0.3">c)</text>
<text x="15" y="542.8" font-size="8.6" font-weight="bold" fill="#111" stroke="#111" stroke-width="0.3">d)</text>
<text x="19" y="648.2" font-size="8.6" font-weight="bold" fill="#111" stroke="#111" stroke-width="0.3">e)</text>
<text transform="translate(9.7,585.6) rotate(-90)" font-size="9.55" text-anchor="middle" fill="#111"  stroke="#111" stroke-width="0.3">Electricity production share (%)</text>
<text transform="translate(224.22,632.4) rotate(-90) scale(1,1.1)" font-size="9.2" text-anchor="end" fill="#111" stroke="#111" stroke-width="0.3">China</text>
<text transform="translate(238.38,632.4) rotate(-90) scale(1,1.1)" font-size="9.2" text-anchor="end" fill="#111" stroke="#111" stroke-width="0.3">US</text>
<text transform="translate(252.54,632.4) rotate(-90) scale(1,1.1)" font-size="9.2" text-anchor="end" fill="#111" stroke="#111" stroke-width="0.3">Eur</text>
<text transform="translate(266.70,632.4) rotate(-90) scale(1,1.1)" font-size="9.2" text-anchor="end" fill="#111" stroke="#111" stroke-width="0.3">India</text>
<text transform="translate(280.86,632.4) rotate(-90) scale(1,1.1)" font-size="9.2" text-anchor="end" fill="#111" stroke="#111" stroke-width="0.3">Rus</text>
<text transform="translate(295.02,632.4) rotate(-90) scale(1,1.1)" font-size="9.2" text-anchor="end" fill="#111" stroke="#111" stroke-width="0.3">Other</text>
<text transform="translate(309.18,632.4) rotate(-90) scale(1,1.1)" font-size="9.2" text-anchor="end" fill="#111" stroke="#111" stroke-width="0.3">China</text>
<text transform="translate(323.34,632.4) rotate(-90) scale(1,1.1)" font-size="9.2" text-anchor="end" fill="#111" stroke="#111" stroke-width="0.3">US</text>
<text transform="translate(337.50,632.4) rotate(-90) scale(1,1.1)" font-size="9.2" text-anchor="end" fill="#111" stroke="#111" stroke-width="0.3">Eur</text>
<text transform="translate(351.66,632.4) rotate(-90) scale(1,1.1)" font-size="9.2" text-anchor="end" fill="#111" stroke="#111" stroke-width="0.3">India</text>
<text transform="translate(365.82,632.4) rotate(-90) scale(1,1.1)" font-size="9.2" text-anchor="end" fill="#111" stroke="#111" stroke-width="0.3">Rus</text>
<text transform="translate(379.98,632.4) rotate(-90) scale(1,1.1)" font-size="9.2" text-anchor="end" fill="#111" stroke="#111" stroke-width="0.3">Other</text>
<text transform="translate(393.7,459.6) scale(1,1.08)" font-size="9.4" fill="#111" stroke="#111" stroke-width="0.3">Cooling system</text>
<line x1="391.5" x2="457.6" y1="460.5" y2="460.5" stroke="#1a1a1a" stroke-width="0.95"/>
<rect x="395.4" y="465.50" width="15.2" height="15.30" fill="#8DD3C7" stroke="#555" stroke-width="0.45"/>
<text x="415.3" y="474.00" font-size="9.2" fill="#111" stroke="#111" stroke-width="0.3">DC</text>
<rect x="395.4" y="480.80" width="15.2" height="15.30" fill="#FFFFB3" stroke="#555" stroke-width="0.45"/>
<text x="415.3" y="490.75" font-size="9.2" fill="#111" stroke="#111" stroke-width="0.3">OTS/B</text>
<rect x="395.4" y="496.10" width="15.2" height="15.30" fill="#BEBADA" stroke="#555" stroke-width="0.45"/>
<text x="415.3" y="507.50" font-size="9.2" fill="#111" stroke="#111" stroke-width="0.3">OTF</text>
<rect x="395.4" y="511.40" width="15.2" height="15.30" fill="#FB8072" stroke="#555" stroke-width="0.45"/>
<text x="415.3" y="524.25" font-size="9.2" fill="#111" stroke="#111" stroke-width="0.3">TC</text>
<text transform="translate(394.1,549.6) scale(1,1.08)" font-size="9.4" fill="#111" stroke="#111" stroke-width="0.3">Rankine cycle</text>
<line x1="393.8" x2="452.8" y1="550.5" y2="550.5" stroke="#1a1a1a" stroke-width="0.95"/>
<rect x="394.1" y="556.80" width="13.6" height="13.45" fill="#66C2A5" stroke="#555" stroke-width="0.45"/>
<text x="415.3" y="567.90" font-size="9.2" fill="#111" stroke="#111" stroke-width="0.3">Double reheat</text>
<rect x="394.1" y="570.25" width="13.6" height="13.45" fill="#FC8D62" stroke="#555" stroke-width="0.45"/>
<text x="415.3" y="581.55" font-size="9.2" fill="#111" stroke="#111" stroke-width="0.3">Reheat</text>
<rect x="394.1" y="583.70" width="13.6" height="13.45" fill="#8DA0CB" stroke="#555" stroke-width="0.45"/>
<text x="415.3" y="595.20" font-size="9.2" fill="#111" stroke="#111" stroke-width="0.3">Simple</text>
<rect x="394.1" y="597.15" width="13.6" height="13.45" fill="#E78AC3" stroke="#555" stroke-width="0.45"/>
<text x="415.3" y="608.85" font-size="9.2" fill="#111" stroke="#111" stroke-width="0.3">Reheat cog/n</text>
<rect x="394.1" y="610.60" width="13.6" height="13.45" fill="#A6D854" stroke="#555" stroke-width="0.45"/>
<text x="415.3" y="622.50" font-size="9.2" fill="#111" stroke="#111" stroke-width="0.3">Simple cog/n</text>
<text transform="translate(135.1,640.6) scale(1,1.08)" font-size="9.4" fill="#111" stroke="#111" stroke-width="0.3">Coal type</text>
<line x1="134.8" x2="175.0" y1="641.5" y2="641.5" stroke="#1a1a1a" stroke-width="0.95"/>
<rect x="135.1" y="647.70" width="13.5" height="13.66" fill="#7FC97F" stroke="#555" stroke-width="0.45"/>
<text x="152.8" y="659.00" font-size="9.2" fill="#111" stroke="#111" stroke-width="0.3">Bituminous</text>
<rect x="135.1" y="661.36" width="13.5" height="13.66" fill="#BEAED4" stroke="#555" stroke-width="0.45"/>
<text x="152.8" y="672.75" font-size="9.2" fill="#111" stroke="#111" stroke-width="0.3">Subbituminous</text>
<rect x="135.1" y="675.02" width="13.5" height="13.66" fill="#FDC086" stroke="#555" stroke-width="0.45"/>
<text x="152.8" y="686.50" font-size="9.2" fill="#111" stroke="#111" stroke-width="0.3">Anthracite</text>
<rect x="135.1" y="688.68" width="13.5" height="13.66" fill="#FFFF99" stroke="#555" stroke-width="0.45"/>
<text x="152.8" y="700.25" font-size="9.2" fill="#111" stroke="#111" stroke-width="0.3">Lignite</text>
<rect x="135.1" y="702.34" width="13.5" height="13.66" fill="#386CB0" stroke="#555" stroke-width="0.45"/>
<text x="152.8" y="714.00" font-size="9.2" fill="#111" stroke="#111" stroke-width="0.3">Other coal</text>
</svg></body></html>
